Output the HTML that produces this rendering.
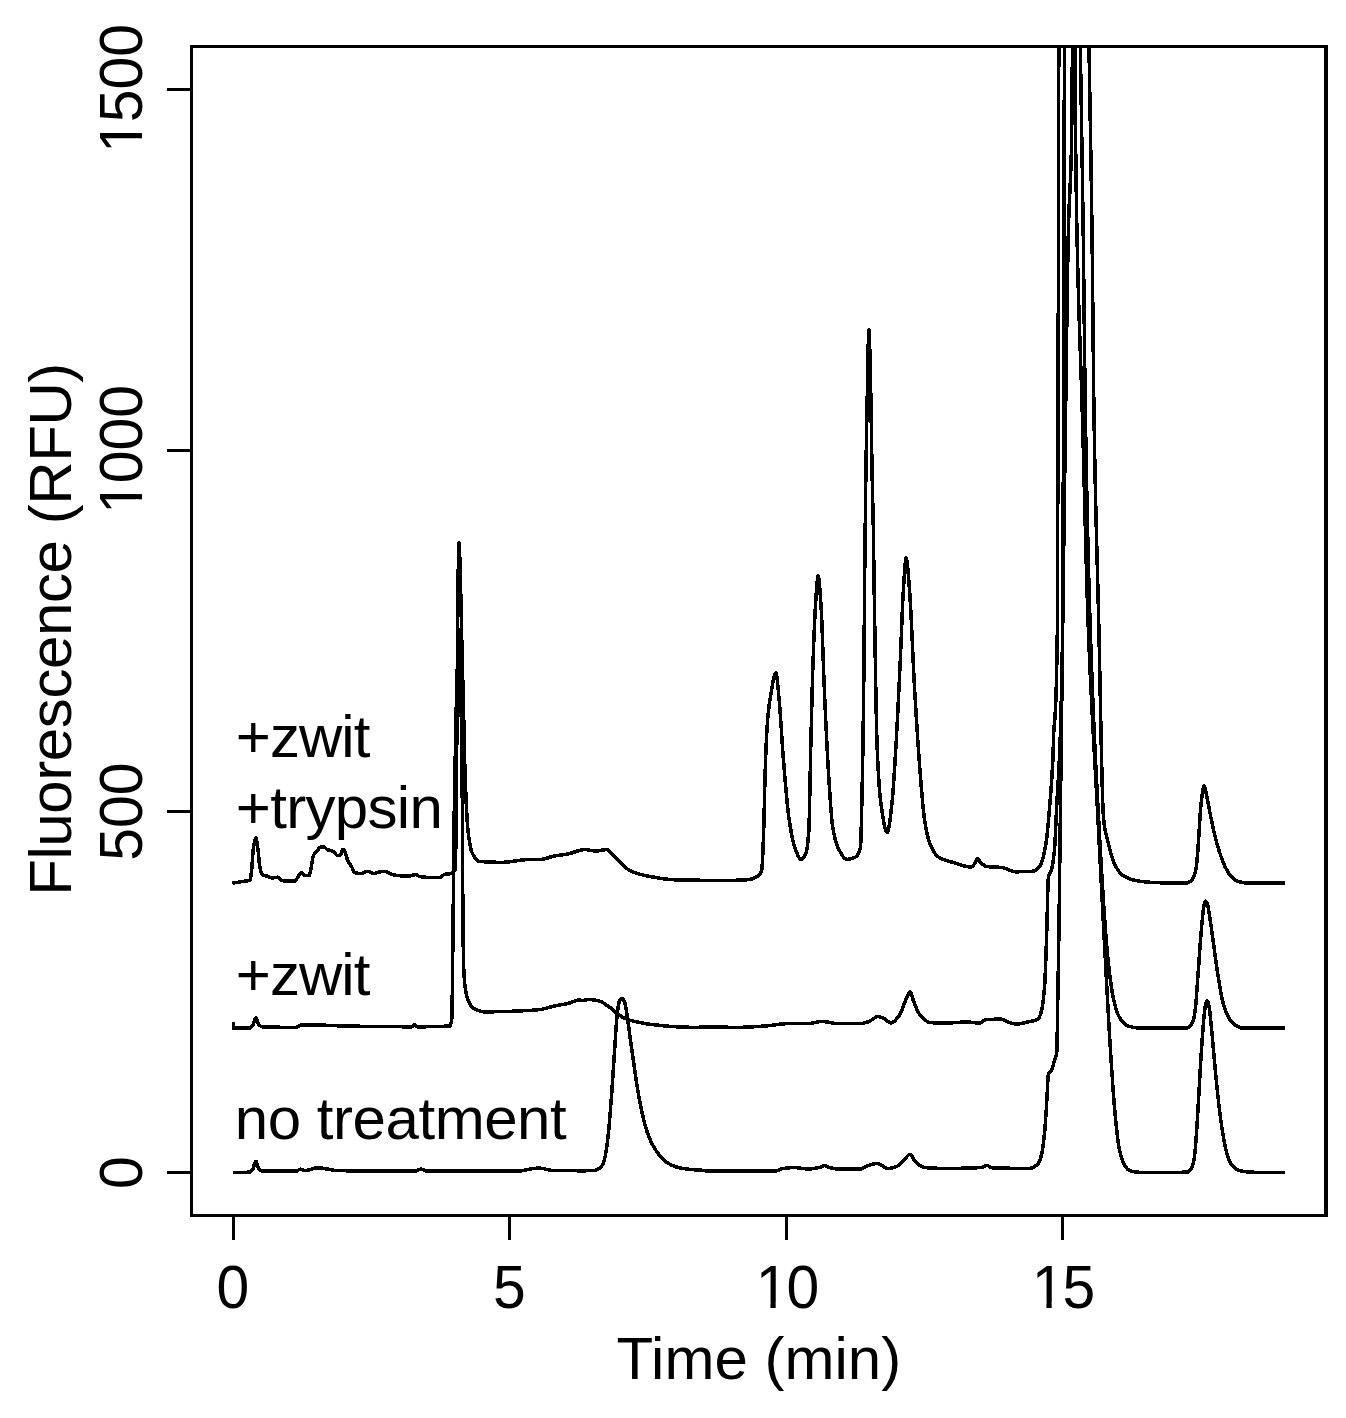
<!DOCTYPE html>
<html><head><meta charset="utf-8"><title>Chromatogram</title>
<style>
html,body{margin:0;padding:0;background:#fff;}
svg{display:block;}
text{font-family:"Liberation Sans",Arial,Helvetica,sans-serif;fill:#000;}
</style></head><body>
<svg width="1346" height="1418" viewBox="0 0 1346 1418">
<rect x="0" y="0" width="1346" height="1418" fill="#fff"/>
<defs><clipPath id="cp"><rect x="191" y="46" width="1135" height="1170"/></clipPath></defs>
<g clip-path="url(#cp)" fill="none" stroke="#000" stroke-width="3.5" stroke-linejoin="round" stroke-linecap="butt" shape-rendering="crispEdges">
<path d="M232.7 1172.6 233.2 1172.6 233.7 1172.6 234.2 1172.6 234.7 1172.6 235.2 1172.6 235.7 1172.6 236.2 1172.6 236.7 1172.6 237.2 1172.6 237.7 1172.6 238.2 1172.6 238.7 1172.6 239.2 1172.5 239.7 1172.5 240.2 1172.5 240.7 1172.5 241.2 1172.5 241.7 1172.5 242.2 1172.5 242.7 1172.4 243.2 1172.4 243.7 1172.4 244.2 1172.4 244.7 1172.4 245.2 1172.3 245.7 1172.3 246.2 1172.3 246.7 1172.3 247.2 1172.2 247.7 1172.2 248.2 1172.2 248.7 1172.1 249.2 1172.1 249.6 1172.0 249.7 1172.0 250.2 1171.9 250.7 1171.6 251.2 1171.2 251.7 1170.6 252.2 1170.1 252.4 1169.8 252.7 1169.4 253.2 1168.2 253.7 1166.6 254.2 1164.8 254.7 1163.2 255.2 1162.0 255.7 1161.4 255.8 1161.3 256.2 1161.6 256.7 1162.7 257.2 1164.3 257.7 1166.0 258.2 1167.7 258.7 1168.9 258.9 1169.2 259.2 1169.5 259.7 1169.9 260.2 1170.3 260.7 1170.7 261.2 1170.9 261.7 1171.1 262.2 1171.2 262.3 1171.2 262.7 1171.2 263.2 1171.2 263.7 1171.2 264.2 1171.2 264.7 1171.2 265.2 1171.2 265.7 1171.2 266.2 1171.2 266.7 1171.2 267.2 1171.2 267.7 1171.2 268.2 1171.2 268.7 1171.2 269.2 1171.2 269.7 1171.2 270.2 1171.2 270.7 1171.2 271.2 1171.2 271.7 1171.2 272.2 1171.2 272.7 1171.2 273.2 1171.2 273.7 1171.2 274.2 1171.2 274.7 1171.2 275.2 1171.2 275.7 1171.2 276.2 1171.2 276.7 1171.2 277.2 1171.2 277.7 1171.2 278.2 1171.2 278.7 1171.2 279.2 1171.2 279.7 1171.2 280.2 1171.2 280.7 1171.2 281.2 1171.2 281.7 1171.2 282.2 1171.2 282.7 1171.2 283.2 1171.2 283.7 1171.2 284.2 1171.2 284.7 1171.2 285.2 1171.2 285.7 1171.2 286.2 1171.2 286.7 1171.2 287.2 1171.2 287.7 1171.2 288.2 1171.2 288.7 1171.2 289.2 1171.2 289.7 1171.2 290.2 1171.2 290.7 1171.2 291.2 1171.2 291.7 1171.2 292.2 1171.2 292.7 1171.2 293.2 1171.2 293.7 1171.2 294.2 1171.2 294.7 1171.2 295.2 1171.2 295.7 1171.2 296.2 1171.2 296.2 1171.2 296.7 1171.1 297.2 1170.9 297.7 1170.6 298.2 1170.3 298.7 1169.9 299.2 1169.6 299.7 1169.4 300.2 1169.2 300.4 1169.2 300.7 1169.2 301.2 1169.4 301.7 1169.5 302.2 1169.8 302.7 1170.0 303.2 1170.3 303.7 1170.5 304.2 1170.6 304.6 1170.6 304.7 1170.6 305.2 1170.6 305.7 1170.6 306.2 1170.5 306.7 1170.4 307.2 1170.3 307.7 1170.2 308.2 1170.1 308.7 1170.0 309.2 1169.8 309.7 1169.6 310.2 1169.5 310.7 1169.3 311.2 1169.2 311.7 1169.0 312.2 1168.8 312.7 1168.7 313.2 1168.5 313.7 1168.4 314.2 1168.2 314.7 1168.1 315.2 1168.0 315.7 1167.9 316.2 1167.9 316.7 1167.8 317.2 1167.8 317.3 1167.8 317.7 1167.8 318.2 1167.8 318.7 1167.8 319.2 1167.9 319.7 1167.9 320.2 1168.0 320.7 1168.0 321.2 1168.1 321.7 1168.1 322.2 1168.2 322.7 1168.3 323.2 1168.3 323.7 1168.4 324.2 1168.5 324.7 1168.6 325.2 1168.7 325.7 1168.8 326.2 1168.8 326.7 1168.9 327.2 1169.0 327.7 1169.1 328.2 1169.2 328.7 1169.3 329.2 1169.4 329.7 1169.5 330.2 1169.6 330.7 1169.7 331.2 1169.8 331.7 1169.9 332.2 1170.0 332.7 1170.1 333.2 1170.1 333.7 1170.2 334.2 1170.3 334.7 1170.4 335.2 1170.4 335.7 1170.5 336.2 1170.5 336.7 1170.6 337.2 1170.6 337.7 1170.6 338.2 1170.6 338.5 1170.6 338.7 1170.6 339.2 1170.6 339.7 1170.7 340.2 1170.7 340.7 1170.7 341.2 1170.7 341.7 1170.7 342.2 1170.7 342.7 1170.7 343.2 1170.7 343.7 1170.7 344.2 1170.7 344.7 1170.7 345.2 1170.7 345.7 1170.7 346.2 1170.8 346.7 1170.8 347.2 1170.8 347.7 1170.8 348.2 1170.8 348.7 1170.8 349.2 1170.8 349.7 1170.8 350.2 1170.8 350.7 1170.8 351.2 1170.8 351.7 1170.8 352.2 1170.8 352.7 1170.8 353.2 1170.9 353.7 1170.9 354.2 1170.9 354.7 1170.9 355.2 1170.9 355.7 1170.9 356.2 1170.9 356.7 1170.9 357.2 1170.9 357.7 1170.9 358.2 1170.9 358.7 1170.9 359.2 1170.9 359.7 1170.9 360.2 1170.9 360.7 1170.9 361.2 1170.9 361.7 1170.9 362.2 1171.0 362.7 1171.0 363.2 1171.0 363.7 1171.0 364.2 1171.0 364.7 1171.0 365.2 1171.0 365.7 1171.0 366.2 1171.0 366.7 1171.0 367.2 1171.0 367.7 1171.0 368.2 1171.0 368.7 1171.0 369.2 1171.0 369.7 1171.0 370.2 1171.0 370.7 1171.0 371.2 1171.0 371.7 1171.0 372.2 1171.0 372.7 1171.0 373.2 1171.1 373.7 1171.1 374.2 1171.1 374.7 1171.1 375.2 1171.1 375.7 1171.1 376.2 1171.1 376.7 1171.1 377.2 1171.1 377.7 1171.1 378.2 1171.1 378.7 1171.1 379.2 1171.1 379.7 1171.1 380.2 1171.1 380.7 1171.1 381.2 1171.1 381.7 1171.1 382.2 1171.1 382.7 1171.1 383.2 1171.1 383.7 1171.1 384.2 1171.1 384.7 1171.1 385.2 1171.1 385.7 1171.1 386.2 1171.1 386.7 1171.1 387.2 1171.1 387.7 1171.1 388.2 1171.1 388.7 1171.1 389.2 1171.1 389.7 1171.1 390.2 1171.2 390.7 1171.2 391.2 1171.2 391.7 1171.2 392.2 1171.2 392.7 1171.2 393.2 1171.2 393.7 1171.2 394.2 1171.2 394.7 1171.2 395.2 1171.2 395.7 1171.2 396.2 1171.2 396.7 1171.2 397.2 1171.2 397.7 1171.2 398.2 1171.2 398.7 1171.2 399.2 1171.2 399.7 1171.2 400.2 1171.2 400.7 1171.2 401.2 1171.2 401.7 1171.2 402.2 1171.2 402.7 1171.2 403.2 1171.2 403.7 1171.2 404.2 1171.2 404.7 1171.2 405.2 1171.2 405.7 1171.2 406.2 1171.2 406.7 1171.2 407.2 1171.2 407.7 1171.2 408.2 1171.2 408.7 1171.2 409.2 1171.2 409.7 1171.2 410.2 1171.2 410.7 1171.2 411.2 1171.2 411.7 1171.2 412.2 1171.2 412.7 1171.2 413.2 1171.2 413.7 1171.2 414.2 1171.2 414.6 1171.2 414.7 1171.2 415.2 1171.2 415.7 1171.0 416.2 1170.9 416.7 1170.7 417.2 1170.5 417.7 1170.2 418.2 1170.0 418.7 1169.8 419.2 1169.6 419.7 1169.4 420.2 1169.3 420.7 1169.2 420.8 1169.2 421.2 1169.2 421.7 1169.3 422.2 1169.4 422.7 1169.6 423.2 1169.8 423.7 1170.0 424.2 1170.3 424.7 1170.5 425.2 1170.7 425.7 1170.9 426.2 1171.0 426.7 1171.1 427.2 1171.2 427.3 1171.2 427.7 1171.2 428.2 1171.2 428.7 1171.2 429.2 1171.2 429.7 1171.2 430.2 1171.2 430.7 1171.2 431.2 1171.2 431.7 1171.2 432.2 1171.2 432.7 1171.2 433.2 1171.2 433.7 1171.2 434.2 1171.2 434.7 1171.2 435.2 1171.2 435.7 1171.2 436.2 1171.2 436.7 1171.2 437.2 1171.2 437.7 1171.2 438.2 1171.2 438.7 1171.2 439.2 1171.2 439.7 1171.2 440.2 1171.2 440.7 1171.2 441.2 1171.2 441.7 1171.2 442.2 1171.2 442.7 1171.2 443.2 1171.2 443.7 1171.2 444.2 1171.2 444.7 1171.2 445.2 1171.2 445.7 1171.2 446.2 1171.2 446.7 1171.2 447.2 1171.2 447.7 1171.2 448.2 1171.2 448.7 1171.2 449.2 1171.2 449.7 1171.2 450.2 1171.2 450.7 1171.2 451.2 1171.2 451.7 1171.2 452.2 1171.2 452.7 1171.2 453.2 1171.2 453.7 1171.2 454.2 1171.2 454.7 1171.2 455.2 1171.2 455.7 1171.2 456.2 1171.2 456.7 1171.2 457.2 1171.2 457.7 1171.2 458.2 1171.2 458.7 1171.2 459.2 1171.2 459.7 1171.2 460.2 1171.2 460.7 1171.2 461.2 1171.2 461.7 1171.2 462.2 1171.2 462.7 1171.2 463.2 1171.2 463.7 1171.2 464.2 1171.2 464.7 1171.2 465.2 1171.2 465.7 1171.2 466.2 1171.2 466.7 1171.2 467.2 1171.2 467.7 1171.2 468.2 1171.2 468.7 1171.2 469.2 1171.2 469.7 1171.2 470.2 1171.2 470.7 1171.2 471.2 1171.2 471.7 1171.2 472.2 1171.2 472.7 1171.2 473.2 1171.2 473.7 1171.2 474.2 1171.2 474.7 1171.2 475.2 1171.2 475.7 1171.2 476.2 1171.2 476.7 1171.2 477.2 1171.2 477.7 1171.2 478.2 1171.2 478.7 1171.2 479.2 1171.2 479.7 1171.2 480.2 1171.2 480.7 1171.2 481.2 1171.2 481.7 1171.2 482.2 1171.2 482.7 1171.2 483.2 1171.2 483.7 1171.2 484.2 1171.2 484.7 1171.2 485.2 1171.2 485.7 1171.2 486.2 1171.2 486.7 1171.2 487.2 1171.2 487.7 1171.2 488.2 1171.2 488.7 1171.2 489.2 1171.2 489.7 1171.2 490.2 1171.2 490.7 1171.2 491.2 1171.2 491.7 1171.2 492.2 1171.2 492.7 1171.2 493.2 1171.2 493.7 1171.2 494.2 1171.2 494.7 1171.2 495.2 1171.2 495.7 1171.2 496.2 1171.2 496.7 1171.2 497.2 1171.2 497.7 1171.2 498.2 1171.2 498.7 1171.2 499.2 1171.2 499.7 1171.2 500.2 1171.2 500.7 1171.2 501.2 1171.2 501.7 1171.2 502.2 1171.2 502.7 1171.2 503.2 1171.2 503.7 1171.2 504.2 1171.2 504.7 1171.2 505.2 1171.2 505.7 1171.2 506.2 1171.2 506.7 1171.2 507.2 1171.2 507.7 1171.2 508.2 1171.2 508.7 1171.2 509.2 1171.2 509.7 1171.2 510.2 1171.2 510.7 1171.2 511.2 1171.2 511.7 1171.2 512.2 1171.2 512.7 1171.2 513.2 1171.2 513.7 1171.2 514.2 1171.2 514.7 1171.2 515.2 1171.2 515.7 1171.2 516.2 1171.2 516.2 1171.2 516.7 1171.2 517.2 1171.2 517.7 1171.2 518.2 1171.1 518.7 1171.1 519.2 1171.0 519.7 1171.0 520.2 1170.9 520.7 1170.9 521.2 1170.8 521.7 1170.7 522.2 1170.7 522.7 1170.6 523.2 1170.5 523.7 1170.4 524.2 1170.3 524.7 1170.2 525.2 1170.1 525.7 1170.0 526.2 1169.9 526.7 1169.8 527.2 1169.7 527.7 1169.6 528.2 1169.5 528.7 1169.4 529.2 1169.3 529.7 1169.2 530.2 1169.1 530.7 1169.0 531.2 1168.9 531.7 1168.8 532.2 1168.7 532.7 1168.6 533.2 1168.6 533.7 1168.5 534.2 1168.4 534.7 1168.4 535.2 1168.3 535.7 1168.3 536.2 1168.2 536.7 1168.2 537.2 1168.1 537.7 1168.1 538.2 1168.1 538.7 1168.1 538.8 1168.1 539.2 1168.1 539.7 1168.1 540.2 1168.2 540.7 1168.2 541.2 1168.3 541.7 1168.3 542.2 1168.4 542.7 1168.5 543.2 1168.6 543.7 1168.7 544.2 1168.8 544.7 1168.9 545.2 1169.1 545.7 1169.2 546.2 1169.3 546.7 1169.4 547.2 1169.6 547.7 1169.7 548.2 1169.8 548.7 1169.9 549.2 1170.0 549.7 1170.1 550.2 1170.2 550.7 1170.3 551.2 1170.4 551.7 1170.5 552.2 1170.5 552.7 1170.6 553.2 1170.6 553.7 1170.6 554.1 1170.6 554.2 1170.6 554.7 1170.6 555.2 1170.6 555.7 1170.6 556.2 1170.6 556.7 1170.6 557.2 1170.6 557.7 1170.6 558.2 1170.6 558.7 1170.6 559.2 1170.6 559.7 1170.6 560.2 1170.6 560.7 1170.6 561.2 1170.6 561.7 1170.6 562.2 1170.6 562.7 1170.6 563.2 1170.6 563.7 1170.6 564.2 1170.6 564.7 1170.6 565.2 1170.6 565.7 1170.6 566.2 1170.6 566.7 1170.6 567.2 1170.6 567.7 1170.6 568.2 1170.6 568.7 1170.6 569.2 1170.6 569.7 1170.6 570.2 1170.6 570.7 1170.6 571.2 1170.6 571.7 1170.6 572.2 1170.6 572.7 1170.6 573.2 1170.6 573.7 1170.6 573.9 1170.6 574.2 1170.6 574.7 1170.6 575.2 1170.7 575.7 1170.7 576.2 1170.7 576.7 1170.7 577.2 1170.7 577.7 1170.8 578.2 1170.8 578.7 1170.8 579.2 1170.8 579.7 1170.8 580.0 1170.8 580.2 1170.8 580.7 1170.8 581.2 1170.8 581.7 1170.8 582.2 1170.8 582.7 1170.8 583.2 1170.8 583.7 1170.8 584.2 1170.8 584.7 1170.8 585.2 1170.8 585.7 1170.8 586.2 1170.7 586.7 1170.7 587.2 1170.7 587.7 1170.7 588.2 1170.7 588.7 1170.7 589.2 1170.7 589.7 1170.6 590.2 1170.6 590.7 1170.6 591.2 1170.6 591.7 1170.6 592.2 1170.5 592.7 1170.5 593.2 1170.5 593.7 1170.4 594.2 1170.4 594.7 1170.4 594.8 1170.4 595.2 1170.3 595.7 1170.2 596.2 1170.1 596.7 1169.9 597.2 1169.7 597.7 1169.4 598.2 1169.1 598.7 1168.8 599.2 1168.5 599.3 1168.4 599.7 1168.1 600.2 1167.7 600.7 1167.2 601.2 1166.6 601.7 1166.0 602.2 1165.2 602.2 1165.2 602.7 1164.3 603.2 1163.1 603.7 1161.7 604.2 1160.1 604.4 1159.3 604.7 1158.3 605.2 1156.1 605.7 1153.4 606.2 1150.4 606.7 1147.4 606.7 1147.2 607.2 1143.6 607.7 1139.5 608.2 1135.0 608.7 1130.1 608.9 1128.1 609.2 1124.9 609.7 1118.9 610.2 1112.6 610.4 1110.4 610.7 1106.3 611.2 1099.9 611.7 1093.3 611.9 1091.1 612.2 1086.2 612.7 1078.6 613.2 1071.0 613.3 1068.9 613.7 1063.5 614.2 1056.0 614.7 1048.5 614.8 1046.7 615.2 1040.8 615.7 1032.8 616.2 1025.7 616.3 1024.4 616.7 1019.8 617.2 1014.6 617.7 1010.2 617.8 1009.6 618.2 1006.7 618.7 1003.6 619.2 1001.6 619.3 1001.5 619.7 1000.7 620.2 1000.0 620.7 999.4 621.2 998.9 621.7 998.6 622.2 998.5 622.2 998.5 622.7 998.7 623.2 999.2 623.7 1000.0 624.2 1001.0 624.4 1001.5 624.7 1002.1 625.2 1004.1 625.7 1006.7 626.2 1009.5 626.2 1009.6 626.7 1012.5 627.2 1016.0 627.7 1019.7 628.1 1023.0 628.2 1023.3 628.7 1026.9 629.2 1030.6 629.7 1034.3 630.2 1038.0 630.4 1039.3 630.7 1041.6 631.2 1045.1 631.7 1048.6 632.2 1052.1 632.7 1055.5 633.2 1059.0 633.3 1060.0 633.7 1062.5 634.2 1066.1 634.7 1069.7 635.2 1073.3 635.7 1076.7 636.2 1080.1 636.3 1080.7 636.7 1083.3 637.2 1086.4 637.7 1089.5 638.2 1092.5 638.7 1095.4 639.2 1098.2 639.3 1098.5 639.7 1100.9 640.2 1103.5 640.7 1106.1 641.2 1108.5 641.7 1110.9 642.2 1113.2 642.2 1113.3 642.7 1115.4 643.2 1117.6 643.7 1119.7 644.2 1121.8 644.7 1123.7 645.2 1125.6 645.7 1127.4 645.9 1128.1 646.2 1129.0 646.7 1130.6 647.2 1132.1 647.7 1133.5 648.2 1134.9 648.7 1136.2 649.2 1137.5 649.6 1138.5 649.7 1138.7 650.2 1139.8 650.7 1140.9 651.2 1142.0 651.7 1143.0 652.2 1144.0 652.7 1144.9 653.2 1145.9 653.7 1146.7 654.1 1147.4 654.2 1147.6 654.7 1148.4 655.2 1149.3 655.7 1150.0 656.2 1150.8 656.7 1151.6 657.2 1152.3 657.7 1153.0 658.2 1153.6 658.5 1154.1 658.7 1154.3 659.2 1155.0 659.7 1155.6 660.2 1156.2 660.7 1156.8 661.2 1157.4 661.7 1158.0 662.2 1158.5 662.7 1159.0 663.0 1159.3 663.2 1159.5 663.7 1159.9 664.2 1160.4 664.7 1160.8 665.2 1161.2 665.7 1161.6 666.2 1162.0 666.7 1162.3 667.2 1162.7 667.7 1163.0 668.2 1163.3 668.7 1163.6 668.9 1163.7 669.2 1163.9 669.7 1164.1 670.2 1164.4 670.7 1164.7 671.2 1164.9 671.7 1165.2 672.2 1165.4 672.7 1165.6 673.2 1165.8 673.7 1166.0 674.2 1166.2 674.7 1166.4 675.2 1166.6 675.7 1166.8 676.2 1166.9 676.3 1167.0 676.7 1167.1 677.2 1167.2 677.7 1167.4 678.2 1167.5 678.7 1167.6 679.2 1167.7 679.7 1167.8 680.2 1167.9 680.7 1168.1 681.2 1168.2 681.7 1168.3 682.2 1168.3 682.7 1168.4 683.2 1168.5 683.7 1168.6 683.7 1168.6 684.2 1168.7 684.7 1168.7 685.2 1168.8 685.7 1168.9 686.2 1169.0 686.7 1169.0 687.2 1169.1 687.7 1169.1 688.2 1169.2 688.7 1169.3 689.2 1169.3 689.7 1169.4 690.2 1169.4 690.7 1169.5 691.2 1169.5 691.7 1169.6 692.2 1169.6 692.6 1169.6 692.7 1169.6 693.2 1169.7 693.7 1169.7 694.2 1169.7 694.7 1169.8 695.2 1169.8 695.7 1169.8 696.2 1169.8 696.7 1169.9 697.2 1169.9 697.7 1169.9 698.2 1170.0 698.7 1170.0 699.2 1170.0 699.7 1170.1 700.0 1170.1 700.2 1170.1 700.7 1170.1 701.2 1170.2 701.7 1170.3 702.2 1170.3 702.7 1170.4 703.2 1170.5 703.7 1170.6 704.2 1170.7 704.7 1170.7 705.2 1170.8 705.7 1170.9 706.2 1171.0 706.7 1171.0 707.2 1171.1 707.7 1171.1 708.2 1171.2 708.7 1171.2 709.2 1171.2 709.3 1171.2 709.7 1171.2 710.2 1171.2 710.7 1171.2 711.2 1171.2 711.7 1171.2 712.2 1171.2 712.7 1171.2 713.2 1171.2 713.7 1171.2 714.2 1171.2 714.7 1171.2 715.2 1171.2 715.7 1171.2 716.2 1171.2 716.7 1171.2 717.2 1171.2 717.7 1171.2 718.2 1171.2 718.7 1171.2 719.2 1171.2 719.7 1171.2 720.2 1171.2 720.7 1171.2 721.2 1171.2 721.7 1171.2 722.2 1171.2 722.7 1171.2 723.2 1171.2 723.7 1171.2 724.2 1171.2 724.7 1171.2 725.2 1171.2 725.7 1171.2 726.2 1171.2 726.7 1171.2 727.2 1171.2 727.7 1171.2 728.2 1171.2 728.7 1171.2 729.2 1171.2 729.7 1171.2 730.2 1171.2 730.7 1171.2 731.2 1171.2 731.7 1171.2 732.2 1171.2 732.7 1171.2 733.2 1171.2 733.7 1171.2 734.2 1171.2 734.7 1171.2 735.2 1171.2 735.7 1171.2 736.2 1171.2 736.7 1171.2 737.2 1171.2 737.7 1171.2 738.2 1171.2 738.7 1171.2 739.2 1171.2 739.7 1171.2 740.2 1171.2 740.7 1171.2 741.2 1171.2 741.7 1171.2 742.2 1171.2 742.7 1171.2 743.2 1171.2 743.7 1171.2 744.2 1171.2 744.7 1171.2 745.2 1171.2 745.7 1171.2 746.2 1171.2 746.7 1171.2 747.2 1171.2 747.7 1171.2 748.2 1171.2 748.7 1171.2 749.2 1171.2 749.7 1171.2 750.2 1171.2 750.7 1171.2 751.2 1171.2 751.7 1171.2 752.2 1171.2 752.7 1171.2 753.2 1171.2 753.7 1171.2 754.2 1171.2 754.7 1171.2 755.2 1171.2 755.7 1171.2 756.2 1171.2 756.7 1171.2 757.2 1171.2 757.7 1171.2 758.2 1171.2 758.7 1171.2 759.2 1171.2 759.7 1171.2 760.2 1171.2 760.7 1171.2 761.2 1171.2 761.7 1171.2 762.2 1171.2 762.7 1171.2 763.2 1171.2 763.7 1171.2 764.2 1171.2 764.7 1171.2 765.2 1171.2 765.7 1171.2 766.2 1171.2 766.7 1171.2 767.2 1171.2 767.7 1171.2 768.2 1171.2 768.7 1171.2 769.2 1171.2 769.7 1171.2 770.2 1171.2 770.7 1171.2 771.2 1171.2 771.7 1171.2 772.2 1171.2 772.7 1171.2 773.2 1171.2 773.7 1171.2 774.1 1171.2 774.2 1171.2 774.7 1171.2 775.2 1171.1 775.7 1171.0 776.2 1170.9 776.7 1170.7 777.2 1170.6 777.7 1170.4 778.2 1170.2 778.7 1170.0 779.2 1169.7 779.7 1169.5 780.2 1169.3 780.7 1169.2 781.2 1169.0 781.7 1168.9 782.2 1168.7 782.6 1168.7 782.7 1168.6 783.2 1168.6 783.7 1168.5 784.2 1168.4 784.7 1168.3 785.2 1168.3 785.7 1168.2 786.2 1168.1 786.7 1168.1 787.2 1168.0 787.7 1167.9 788.2 1167.9 788.7 1167.8 789.2 1167.8 789.7 1167.7 790.2 1167.7 790.7 1167.7 791.2 1167.6 791.7 1167.6 792.2 1167.6 792.7 1167.5 793.2 1167.5 793.7 1167.5 793.9 1167.5 794.2 1167.5 794.7 1167.5 795.2 1167.6 795.7 1167.6 796.2 1167.6 796.7 1167.7 797.2 1167.7 797.7 1167.8 798.2 1167.8 798.7 1167.9 799.2 1168.0 799.7 1168.1 800.2 1168.1 800.7 1168.2 801.2 1168.3 801.7 1168.4 802.2 1168.4 802.7 1168.5 803.2 1168.6 803.7 1168.6 804.2 1168.7 804.7 1168.7 805.2 1168.8 805.7 1168.8 806.2 1168.9 806.7 1168.9 807.2 1168.9 807.7 1168.9 808.0 1168.9 808.2 1168.9 808.7 1168.9 809.2 1168.9 809.7 1168.9 810.2 1168.9 810.7 1168.8 811.2 1168.8 811.7 1168.8 812.2 1168.7 812.7 1168.6 813.2 1168.6 813.7 1168.5 814.2 1168.4 814.7 1168.4 815.2 1168.3 815.7 1168.2 816.2 1168.1 816.7 1168.0 817.2 1167.9 817.7 1167.8 818.2 1167.7 818.7 1167.6 819.2 1167.5 819.3 1167.5 819.7 1167.4 820.2 1167.2 820.7 1167.0 821.2 1166.7 821.7 1166.5 822.2 1166.2 822.7 1166.0 823.2 1165.8 823.7 1165.6 824.2 1165.6 824.3 1165.6 824.7 1165.6 825.2 1165.7 825.7 1165.9 826.2 1166.1 826.7 1166.4 827.2 1166.7 827.7 1166.9 828.2 1167.2 828.7 1167.4 829.1 1167.5 829.2 1167.5 829.7 1167.7 830.2 1167.8 830.7 1167.9 831.2 1168.0 831.7 1168.1 832.2 1168.2 832.7 1168.3 833.2 1168.3 833.7 1168.4 834.2 1168.5 834.7 1168.6 835.2 1168.7 835.7 1168.8 836.2 1168.8 836.7 1168.9 837.2 1168.9 837.7 1169.0 838.2 1169.0 838.7 1169.1 839.2 1169.1 839.7 1169.2 840.2 1169.2 840.7 1169.2 841.2 1169.2 841.7 1169.2 841.8 1169.2 842.2 1169.2 842.7 1169.2 843.2 1169.2 843.7 1169.2 844.2 1169.2 844.7 1169.2 845.2 1169.2 845.7 1169.2 846.2 1169.2 846.7 1169.2 847.2 1169.2 847.7 1169.2 848.2 1169.2 848.7 1169.2 849.2 1169.2 849.7 1169.2 850.2 1169.2 850.7 1169.2 851.2 1169.2 851.7 1169.2 852.2 1169.2 852.7 1169.2 853.2 1169.2 853.7 1169.2 854.2 1169.2 854.7 1169.2 855.2 1169.2 855.7 1169.2 856.2 1169.2 856.7 1169.2 857.2 1169.2 857.7 1169.2 858.2 1169.2 858.7 1169.2 858.8 1169.2 859.2 1169.2 859.7 1169.2 860.2 1169.1 860.7 1168.9 861.2 1168.8 861.7 1168.6 862.2 1168.4 862.7 1168.2 863.2 1167.9 863.7 1167.7 864.2 1167.4 864.7 1167.2 865.2 1166.9 865.7 1166.7 866.2 1166.4 866.7 1166.2 867.2 1166.0 867.7 1165.8 868.2 1165.6 868.5 1165.6 868.7 1165.5 869.2 1165.3 869.7 1165.2 870.2 1165.0 870.7 1164.9 871.2 1164.7 871.7 1164.6 872.2 1164.4 872.7 1164.3 873.2 1164.1 873.7 1164.0 874.2 1163.9 874.7 1163.8 875.2 1163.7 875.7 1163.7 876.2 1163.6 876.7 1163.6 876.9 1163.6 877.2 1163.6 877.7 1163.6 878.2 1163.8 878.7 1163.9 879.2 1164.1 879.7 1164.3 880.2 1164.6 880.7 1164.8 881.2 1165.1 881.7 1165.4 882.2 1165.7 882.7 1166.1 883.2 1166.4 883.7 1166.7 884.2 1167.0 884.7 1167.3 885.2 1167.5 885.7 1167.8 886.2 1168.0 886.7 1168.1 887.2 1168.3 887.7 1168.3 888.2 1168.4 888.2 1168.4 888.7 1168.4 889.2 1168.3 889.7 1168.3 890.2 1168.2 890.7 1168.2 891.2 1168.1 891.7 1168.0 892.2 1167.8 892.7 1167.7 893.2 1167.6 893.7 1167.4 894.2 1167.3 894.7 1167.1 895.2 1166.9 895.7 1166.8 896.2 1166.6 896.7 1166.4 896.7 1166.4 897.2 1166.2 897.7 1165.9 898.2 1165.5 898.7 1165.2 899.2 1164.7 899.7 1164.2 900.2 1163.7 900.7 1163.2 901.2 1162.7 901.7 1162.1 902.2 1161.6 902.7 1161.0 903.2 1160.4 903.7 1159.9 904.2 1159.4 904.7 1158.9 905.1 1158.5 905.2 1158.5 905.7 1158.0 906.2 1157.4 906.7 1156.9 907.2 1156.3 907.7 1155.8 908.2 1155.3 908.7 1154.9 909.2 1154.6 909.7 1154.4 910.2 1154.3 910.2 1154.3 910.7 1154.4 911.2 1154.9 911.7 1155.6 912.2 1156.4 912.7 1157.4 913.2 1158.4 913.7 1159.4 914.2 1160.3 914.7 1161.0 915.0 1161.3 915.2 1161.5 915.7 1162.0 916.2 1162.4 916.7 1162.9 917.2 1163.3 917.7 1163.7 918.2 1164.1 918.7 1164.5 919.2 1164.9 919.7 1165.3 920.2 1165.6 920.7 1166.0 921.2 1166.3 921.7 1166.5 922.2 1166.8 922.7 1167.0 923.2 1167.2 923.7 1167.3 924.2 1167.4 924.7 1167.5 924.9 1167.5 925.2 1167.6 925.7 1167.6 926.2 1167.6 926.7 1167.7 927.2 1167.7 927.7 1167.8 928.2 1167.8 928.7 1167.8 929.2 1167.9 929.7 1167.9 930.2 1167.9 930.7 1168.0 931.2 1168.0 931.7 1168.0 932.2 1168.1 932.7 1168.1 933.2 1168.1 933.7 1168.1 934.2 1168.1 934.7 1168.2 935.2 1168.2 935.7 1168.2 936.2 1168.2 936.7 1168.2 937.2 1168.3 937.7 1168.3 938.2 1168.3 938.7 1168.3 939.2 1168.3 939.7 1168.3 940.2 1168.3 940.7 1168.3 941.2 1168.4 941.7 1168.4 942.2 1168.4 942.7 1168.4 943.2 1168.4 943.7 1168.4 944.2 1168.4 944.6 1168.4 944.7 1168.4 945.2 1168.4 945.7 1168.4 946.2 1168.4 946.7 1168.4 947.2 1168.4 947.7 1168.4 948.2 1168.4 948.7 1168.4 949.2 1168.4 949.7 1168.4 950.2 1168.4 950.7 1168.4 951.2 1168.4 951.7 1168.4 952.2 1168.4 952.7 1168.3 953.2 1168.3 953.7 1168.3 954.2 1168.3 954.7 1168.3 955.2 1168.3 955.7 1168.3 956.2 1168.3 956.7 1168.3 957.2 1168.3 957.7 1168.3 958.2 1168.3 958.7 1168.3 959.2 1168.3 959.7 1168.3 960.2 1168.3 960.7 1168.3 961.2 1168.2 961.7 1168.2 962.2 1168.2 962.7 1168.2 963.2 1168.2 963.7 1168.2 964.2 1168.2 964.7 1168.2 965.2 1168.2 965.7 1168.1 966.2 1168.1 966.7 1168.1 967.2 1168.1 967.7 1168.1 968.2 1168.1 968.7 1168.1 969.2 1168.0 969.7 1168.0 970.2 1168.0 970.7 1168.0 971.2 1168.0 971.7 1168.0 972.2 1167.9 972.7 1167.9 973.2 1167.9 973.7 1167.9 974.2 1167.9 974.7 1167.8 975.2 1167.8 975.7 1167.8 976.2 1167.8 976.7 1167.8 977.2 1167.7 977.7 1167.7 978.2 1167.7 978.7 1167.7 979.2 1167.6 979.7 1167.6 980.2 1167.6 980.7 1167.6 981.2 1167.5 981.3 1167.5 981.7 1167.5 982.2 1167.4 982.7 1167.2 983.2 1167.0 983.7 1166.7 984.2 1166.5 984.7 1166.2 985.2 1166.0 985.7 1165.8 986.2 1165.6 986.7 1165.6 986.9 1165.6 987.2 1165.6 987.7 1165.7 988.2 1165.8 988.7 1166.1 989.2 1166.3 989.7 1166.6 990.2 1166.9 990.7 1167.2 991.2 1167.4 991.7 1167.6 992.2 1167.8 992.6 1167.8 992.7 1167.8 993.2 1167.8 993.7 1167.9 994.2 1167.9 994.7 1167.9 995.2 1167.9 995.7 1167.9 996.2 1167.9 996.7 1168.0 997.2 1168.0 997.7 1168.0 998.2 1168.0 998.7 1168.0 999.2 1168.0 999.7 1168.0 1000.2 1168.1 1000.7 1168.1 1001.2 1168.1 1001.7 1168.1 1002.2 1168.1 1002.7 1168.1 1003.2 1168.1 1003.7 1168.1 1004.2 1168.2 1004.7 1168.2 1005.2 1168.2 1005.7 1168.2 1006.2 1168.2 1006.7 1168.2 1007.2 1168.2 1007.7 1168.2 1008.2 1168.2 1008.7 1168.2 1009.2 1168.2 1009.7 1168.3 1010.2 1168.3 1010.7 1168.3 1011.2 1168.3 1011.7 1168.3 1012.2 1168.3 1012.7 1168.3 1013.2 1168.3 1013.7 1168.3 1014.2 1168.3 1014.7 1168.3 1015.2 1168.3 1015.7 1168.3 1016.2 1168.3 1016.7 1168.3 1017.2 1168.3 1017.7 1168.3 1018.2 1168.3 1018.7 1168.3 1019.2 1168.4 1019.7 1168.4 1020.2 1168.4 1020.7 1168.4 1021.2 1168.4 1021.7 1168.4 1022.2 1168.4 1022.7 1168.4 1023.2 1168.4 1023.7 1168.4 1024.2 1168.4 1024.7 1168.4 1025.2 1168.4 1025.7 1168.4 1026.2 1168.4 1026.7 1168.4 1027.2 1168.4 1027.7 1168.4 1028.2 1168.4 1028.7 1168.4 1029.2 1168.4 1029.3 1168.4 1029.7 1168.4 1030.2 1168.3 1030.7 1168.2 1031.2 1168.1 1031.7 1168.0 1032.2 1167.8 1032.7 1167.6 1033.2 1167.4 1033.7 1167.1 1034.2 1166.8 1034.7 1166.5 1035.2 1166.2 1035.7 1165.8 1036.2 1165.4 1036.7 1165.0 1037.2 1164.6 1037.7 1164.2 1037.7 1164.1 1038.2 1163.6 1038.7 1162.8 1039.2 1161.8 1039.7 1160.6 1040.2 1159.2 1040.7 1157.6 1041.2 1155.8 1041.7 1153.9 1041.9 1152.9 1042.2 1151.7 1042.7 1148.8 1043.2 1145.1 1043.7 1140.9 1044.2 1136.1 1044.7 1131.1 1044.8 1130.3 1045.2 1125.3 1045.7 1118.3 1046.2 1110.7 1046.7 1102.8 1046.7 1102.1 1047.2 1093.6 1047.7 1083.0 1048.2 1075.3 1048.4 1073.9 1048.7 1073.4 1049.2 1072.8 1049.7 1072.4 1050.2 1072.1 1050.7 1071.7 1051.2 1071.1 1051.3 1071.1 1051.7 1070.2 1052.2 1068.9 1052.7 1067.2 1053.2 1065.3 1053.7 1063.4 1054.2 1061.4 1054.6 1059.8 1054.7 1059.6 1055.2 1058.3 1055.7 1057.1 1056.2 1055.6 1056.7 1052.9 1056.9 1051.3 1057.2 1036.9 1057.5 1017.5 1057.7 1003.8 1058.2 975.1 1058.7 944.7 1058.9 932.8 1059.2 909.2 1059.7 868.6 1060.2 827.1 1060.3 820.0 1060.7 787.0 1061.2 746.9 1061.7 706.8 1062.2 667.1 1062.7 628.2 1062.8 620.0 1063.2 589.8 1063.7 551.8 1064.2 514.3 1064.7 477.5 1065.2 441.5 1065.5 420.0 1065.7 406.3 1066.2 369.6 1066.7 332.6 1067.2 297.2 1067.7 265.3 1068.2 238.8 1068.4 230.0 1068.7 219.5 1069.2 205.7 1069.7 195.0 1070.2 185.0 1070.7 173.3 1071.2 157.5 1071.6 140.0 1071.7 133.7 1072.2 72.8 1072.5 47.0 1072.7 41.1 1073.2 29.5 1073.7 25.0 1073.7 25.0 1074.2 29.0 1074.7 40.4 1074.9 47.0 1075.2 79.1 1075.6 140.0 1075.7 148.6 1076.2 188.4 1076.7 219.4 1076.9 230.0 1077.2 243.9 1077.7 265.7 1078.2 285.2 1078.7 302.9 1079.2 319.2 1079.7 334.6 1080.2 349.2 1080.7 363.7 1081.2 378.3 1081.7 393.5 1082.2 409.5 1082.5 420.0 1082.7 426.9 1083.2 445.3 1083.7 464.5 1084.2 484.1 1084.7 503.9 1085.2 523.7 1085.7 543.1 1086.2 561.8 1086.7 579.7 1087.2 596.3 1087.7 611.5 1088.0 620.0 1088.2 625.1 1088.7 637.8 1089.2 650.0 1089.7 661.7 1090.2 672.8 1090.7 683.6 1091.2 693.9 1091.7 704.0 1092.2 713.7 1092.7 723.2 1093.2 732.4 1093.7 741.5 1094.2 750.5 1094.7 759.5 1095.2 768.4 1095.7 777.3 1096.2 786.3 1096.7 795.4 1097.2 804.6 1097.7 814.1 1098.0 820.0 1098.2 823.8 1098.7 833.5 1099.2 843.2 1099.7 852.9 1100.2 862.6 1100.7 872.2 1101.2 881.9 1101.7 891.4 1102.2 901.0 1102.7 910.5 1103.2 919.9 1103.7 929.3 1104.2 938.6 1104.7 947.8 1105.2 957.0 1105.4 961.0 1105.7 966.1 1106.2 975.3 1106.7 984.5 1107.2 993.7 1107.7 1002.8 1108.2 1011.9 1108.7 1020.8 1109.2 1029.5 1109.7 1038.0 1110.2 1046.3 1110.7 1054.2 1111.1 1059.8 1111.2 1061.8 1111.7 1069.3 1112.2 1076.7 1112.7 1083.9 1113.2 1090.9 1113.7 1097.6 1114.2 1104.0 1114.7 1109.8 1115.2 1115.2 1115.3 1116.2 1115.7 1120.2 1116.2 1125.1 1116.7 1129.7 1117.2 1134.2 1117.7 1138.3 1118.2 1142.1 1118.7 1145.5 1119.2 1148.4 1119.5 1150.0 1119.7 1150.8 1120.2 1153.0 1120.7 1155.0 1121.2 1156.8 1121.7 1158.4 1122.2 1159.9 1122.7 1161.2 1123.2 1162.4 1123.5 1163.0 1123.7 1163.4 1124.2 1164.3 1124.7 1165.2 1125.2 1166.1 1125.7 1166.9 1126.2 1167.6 1126.7 1168.2 1127.2 1168.8 1127.7 1169.3 1128.2 1169.6 1128.5 1169.8 1128.7 1169.9 1129.2 1170.1 1129.7 1170.4 1130.2 1170.6 1130.7 1170.8 1131.2 1170.9 1131.7 1171.1 1132.2 1171.3 1132.7 1171.4 1133.2 1171.5 1133.7 1171.6 1134.2 1171.7 1134.7 1171.8 1135.2 1171.9 1135.7 1172.0 1136.0 1172.0 1136.2 1172.0 1136.7 1172.1 1137.2 1172.1 1137.7 1172.2 1138.2 1172.2 1138.7 1172.3 1139.2 1172.3 1139.7 1172.4 1140.2 1172.4 1140.7 1172.4 1141.2 1172.5 1141.7 1172.5 1142.2 1172.5 1142.7 1172.5 1143.2 1172.6 1143.7 1172.6 1144.2 1172.6 1144.7 1172.6 1145.2 1172.6 1145.4 1172.6 1145.7 1172.6 1146.2 1172.6 1146.7 1172.6 1147.2 1172.6 1147.7 1172.6 1148.2 1172.6 1148.7 1172.6 1149.2 1172.6 1149.7 1172.6 1150.2 1172.6 1150.7 1172.6 1151.2 1172.6 1151.7 1172.6 1152.2 1172.6 1152.7 1172.6 1153.2 1172.6 1153.7 1172.6 1154.2 1172.6 1154.7 1172.6 1155.2 1172.6 1155.7 1172.6 1156.2 1172.6 1156.7 1172.6 1157.2 1172.6 1157.7 1172.6 1158.2 1172.6 1158.7 1172.6 1159.2 1172.6 1159.7 1172.6 1160.2 1172.5 1160.7 1172.5 1161.2 1172.5 1161.7 1172.5 1162.2 1172.5 1162.7 1172.5 1163.2 1172.5 1163.7 1172.5 1164.2 1172.5 1164.7 1172.5 1165.2 1172.5 1165.7 1172.5 1166.2 1172.5 1166.7 1172.5 1167.2 1172.5 1167.7 1172.5 1168.2 1172.5 1168.7 1172.5 1169.2 1172.5 1169.7 1172.5 1170.0 1172.5 1170.2 1172.5 1170.7 1172.5 1171.2 1172.4 1171.7 1172.4 1172.2 1172.4 1172.7 1172.4 1173.2 1172.4 1173.7 1172.4 1174.2 1172.4 1174.7 1172.4 1175.2 1172.4 1175.7 1172.4 1176.2 1172.4 1176.7 1172.4 1177.2 1172.4 1177.7 1172.4 1178.2 1172.4 1178.7 1172.4 1179.2 1172.3 1179.7 1172.3 1180.2 1172.3 1180.7 1172.3 1181.2 1172.3 1181.7 1172.3 1182.2 1172.3 1182.7 1172.2 1183.2 1172.2 1183.7 1172.2 1184.2 1172.2 1184.7 1172.2 1185.2 1172.1 1185.7 1172.1 1186.2 1172.1 1186.7 1172.1 1187.2 1172.0 1187.5 1172.0 1187.7 1172.0 1188.2 1171.8 1188.7 1171.6 1189.2 1171.2 1189.7 1170.7 1190.2 1170.2 1190.7 1169.5 1191.2 1168.9 1191.4 1168.5 1191.7 1168.1 1192.2 1167.0 1192.7 1165.5 1193.2 1163.7 1193.7 1161.5 1194.0 1159.8 1194.2 1158.9 1194.7 1154.8 1195.2 1149.4 1195.7 1143.5 1195.8 1142.3 1196.2 1137.2 1196.7 1130.1 1197.2 1122.4 1197.3 1120.4 1197.7 1114.4 1198.2 1105.8 1198.7 1097.0 1198.9 1094.2 1199.2 1088.2 1199.7 1079.2 1200.2 1070.4 1200.6 1063.6 1200.7 1062.1 1201.2 1054.3 1201.7 1046.7 1202.2 1039.5 1202.3 1037.4 1202.7 1032.6 1203.2 1025.7 1203.7 1019.6 1203.9 1017.7 1204.2 1014.7 1204.7 1010.4 1205.2 1006.8 1205.6 1004.6 1205.7 1004.3 1206.2 1002.5 1206.7 1001.2 1207.2 1000.7 1207.2 1000.7 1207.7 1001.3 1208.2 1002.8 1208.7 1004.8 1208.9 1005.7 1209.2 1007.2 1209.7 1010.8 1210.2 1015.4 1210.7 1020.4 1211.1 1024.3 1211.2 1025.2 1211.7 1030.3 1212.2 1035.7 1212.7 1041.3 1213.2 1046.9 1213.7 1052.4 1213.7 1052.7 1214.2 1057.9 1214.7 1063.5 1215.2 1069.0 1215.7 1074.4 1216.2 1079.6 1216.3 1081.1 1216.7 1084.6 1217.2 1089.5 1217.7 1094.2 1218.2 1098.8 1218.7 1103.2 1219.2 1107.3 1219.2 1107.4 1219.7 1111.5 1220.2 1115.4 1220.7 1119.2 1221.2 1122.9 1221.7 1126.4 1222.2 1129.7 1222.5 1131.4 1222.7 1132.8 1223.2 1135.8 1223.7 1138.7 1224.2 1141.5 1224.7 1144.1 1225.2 1146.5 1225.7 1148.7 1225.7 1148.9 1226.2 1150.7 1226.7 1152.6 1227.2 1154.5 1227.7 1156.2 1228.2 1157.7 1228.7 1159.0 1229.0 1159.8 1229.2 1160.2 1229.7 1161.2 1230.2 1162.2 1230.7 1163.1 1231.2 1164.0 1231.7 1164.8 1232.2 1165.4 1232.7 1166.1 1233.2 1166.6 1233.4 1166.8 1233.7 1167.0 1234.2 1167.5 1234.7 1167.9 1235.2 1168.3 1235.7 1168.7 1236.2 1169.0 1236.7 1169.3 1237.2 1169.6 1237.7 1169.9 1238.2 1170.1 1238.7 1170.3 1239.2 1170.5 1239.7 1170.7 1239.9 1170.7 1240.2 1170.8 1240.7 1170.9 1241.2 1171.0 1241.7 1171.1 1242.2 1171.2 1242.7 1171.2 1243.2 1171.3 1243.7 1171.4 1244.2 1171.5 1244.7 1171.6 1245.2 1171.6 1245.7 1171.7 1246.2 1171.8 1246.7 1171.8 1247.2 1171.9 1247.7 1171.9 1248.2 1172.0 1248.7 1172.0 1249.2 1172.1 1249.7 1172.1 1250.2 1172.1 1250.7 1172.2 1251.2 1172.2 1251.7 1172.2 1252.2 1172.2 1252.7 1172.2 1253.1 1172.2 1253.2 1172.2 1253.7 1172.2 1254.2 1172.3 1254.7 1172.3 1255.2 1172.3 1255.7 1172.3 1256.2 1172.3 1256.7 1172.3 1257.2 1172.3 1257.7 1172.3 1258.2 1172.3 1258.7 1172.3 1259.2 1172.3 1259.7 1172.3 1260.2 1172.3 1260.7 1172.3 1261.2 1172.3 1261.7 1172.3 1262.2 1172.4 1262.7 1172.4 1263.2 1172.4 1263.7 1172.4 1264.2 1172.4 1264.7 1172.4 1265.2 1172.4 1265.7 1172.4 1266.2 1172.4 1266.7 1172.4 1267.2 1172.4 1267.7 1172.4 1268.2 1172.4 1268.7 1172.4 1269.2 1172.4 1269.7 1172.4 1270.2 1172.4 1270.7 1172.4 1271.2 1172.4 1271.7 1172.4 1272.2 1172.4 1272.7 1172.4 1273.2 1172.4 1273.7 1172.4 1274.2 1172.4 1274.7 1172.4 1275.2 1172.4 1275.7 1172.4 1276.2 1172.4 1276.7 1172.4 1277.2 1172.4 1277.7 1172.4 1278.2 1172.4 1278.7 1172.5 1279.2 1172.5 1279.7 1172.5 1280.2 1172.5 1280.7 1172.5 1281.2 1172.5 1281.7 1172.5 1282.2 1172.5 1282.7 1172.5 1283.2 1172.5 1283.7 1172.5 1284.2 1172.5 1284.7 1172.5 1285.2 1172.5"/>
<path d="M233.4 1021.5 L233.4 1028.2 233.9 1028.2 234.4 1028.2 234.9 1028.2 235.4 1028.2 235.9 1028.2 236.4 1028.2 236.9 1028.2 237.4 1028.2 237.9 1028.2 238.4 1028.2 238.9 1028.2 239.4 1028.2 239.9 1028.1 240.4 1028.1 240.9 1028.1 241.4 1028.1 241.9 1028.1 242.4 1028.1 242.9 1028.1 243.4 1028.1 243.9 1028.1 244.4 1028.1 244.9 1028.1 245.4 1028.0 245.9 1028.0 246.4 1028.0 246.9 1028.0 247.4 1028.0 247.9 1028.0 248.4 1027.9 248.9 1027.9 249.4 1027.9 249.6 1027.9 249.9 1027.9 250.4 1027.6 250.9 1027.3 251.4 1026.8 251.9 1026.3 252.4 1025.7 252.7 1025.4 252.9 1025.1 253.4 1023.9 253.9 1022.4 254.4 1020.7 254.9 1019.3 255.4 1018.3 255.8 1018.0 255.9 1018.0 256.4 1018.6 256.9 1019.6 257.4 1021.0 257.9 1022.5 258.4 1023.7 258.9 1024.5 258.9 1024.5 259.4 1025.0 259.9 1025.5 260.4 1025.9 260.9 1026.3 261.4 1026.5 261.9 1026.7 262.3 1026.8 262.4 1026.8 262.9 1026.8 263.4 1026.8 263.9 1026.8 264.4 1026.9 264.9 1026.9 265.4 1026.9 265.9 1026.9 266.4 1026.9 266.9 1026.9 267.4 1027.0 267.9 1027.0 268.4 1027.0 268.9 1027.0 269.4 1027.0 269.9 1027.0 270.4 1027.1 270.9 1027.1 271.4 1027.1 271.9 1027.1 272.4 1027.1 272.9 1027.1 273.4 1027.1 273.9 1027.1 274.4 1027.2 274.9 1027.2 275.4 1027.2 275.9 1027.2 276.4 1027.2 276.9 1027.2 277.4 1027.2 277.9 1027.2 278.4 1027.2 278.9 1027.2 279.4 1027.2 279.9 1027.2 280.4 1027.3 280.9 1027.3 281.4 1027.3 281.9 1027.3 282.4 1027.3 282.9 1027.3 283.4 1027.3 283.9 1027.3 284.4 1027.3 284.9 1027.3 285.4 1027.3 285.9 1027.3 286.4 1027.3 286.9 1027.3 287.4 1027.3 287.9 1027.3 288.4 1027.3 288.9 1027.3 289.4 1027.3 289.9 1027.3 290.4 1027.3 290.9 1027.3 291.4 1027.3 291.9 1027.3 292.4 1027.3 292.9 1027.3 293.4 1027.3 293.9 1027.3 294.4 1027.3 294.9 1027.3 295.4 1027.3 295.9 1027.3 296.2 1027.3 296.4 1027.3 296.9 1027.2 297.4 1027.0 297.9 1026.7 298.4 1026.4 298.9 1026.1 299.4 1025.8 299.9 1025.5 300.4 1025.2 300.9 1025.0 301.4 1024.8 301.8 1024.8 301.9 1024.8 302.4 1024.8 302.9 1024.8 303.4 1024.8 303.9 1024.8 304.4 1024.8 304.9 1024.8 305.4 1024.8 305.9 1024.8 306.4 1024.8 306.9 1024.8 307.4 1024.8 307.9 1024.8 308.4 1024.8 308.9 1024.8 309.4 1024.8 309.9 1024.8 310.4 1024.8 310.9 1024.8 311.4 1024.8 311.9 1024.8 312.4 1024.8 312.9 1024.8 313.4 1024.8 313.9 1024.8 314.4 1024.8 314.9 1024.8 315.4 1024.8 315.9 1024.8 316.4 1024.8 316.9 1024.8 317.3 1024.8 317.4 1024.8 317.9 1024.8 318.4 1024.8 318.9 1024.8 319.4 1024.8 319.9 1024.8 320.4 1024.9 320.9 1024.9 321.4 1024.9 321.9 1024.9 322.4 1025.0 322.9 1025.0 323.4 1025.0 323.9 1025.1 324.4 1025.1 324.9 1025.2 325.4 1025.2 325.9 1025.2 326.4 1025.3 326.9 1025.3 327.4 1025.3 327.9 1025.4 328.4 1025.4 328.9 1025.5 329.4 1025.5 329.9 1025.5 330.4 1025.5 330.9 1025.6 331.4 1025.6 331.9 1025.6 332.4 1025.6 332.8 1025.6 332.9 1025.6 333.4 1025.7 333.9 1025.7 334.4 1025.7 334.9 1025.7 335.4 1025.7 335.9 1025.7 336.4 1025.7 336.9 1025.7 337.4 1025.8 337.9 1025.8 338.4 1025.8 338.9 1025.8 339.4 1025.8 339.9 1025.8 340.4 1025.8 340.9 1025.8 341.4 1025.9 341.9 1025.9 342.4 1025.9 342.9 1025.9 343.4 1025.9 343.9 1025.9 344.4 1025.9 344.9 1025.9 345.4 1026.0 345.9 1026.0 346.4 1026.0 346.9 1026.0 347.4 1026.0 347.9 1026.0 348.4 1026.0 348.9 1026.0 349.4 1026.0 349.9 1026.1 350.4 1026.1 350.9 1026.1 351.4 1026.1 351.9 1026.1 352.4 1026.1 352.9 1026.1 353.4 1026.1 353.9 1026.1 354.4 1026.1 354.9 1026.2 355.4 1026.2 355.9 1026.2 356.4 1026.2 356.9 1026.2 357.4 1026.2 357.9 1026.2 358.4 1026.2 358.9 1026.2 359.4 1026.2 359.9 1026.3 360.4 1026.3 360.9 1026.3 361.4 1026.3 361.9 1026.3 362.4 1026.3 362.9 1026.3 363.4 1026.3 363.9 1026.3 364.4 1026.3 364.9 1026.3 365.4 1026.4 365.9 1026.4 366.4 1026.4 366.9 1026.4 367.4 1026.4 367.9 1026.4 368.4 1026.4 368.9 1026.4 369.4 1026.4 369.9 1026.4 370.4 1026.4 370.9 1026.4 371.4 1026.4 371.9 1026.5 372.4 1026.5 372.9 1026.5 373.4 1026.5 373.9 1026.5 374.4 1026.5 374.9 1026.5 375.4 1026.5 375.9 1026.5 376.4 1026.5 376.9 1026.5 377.4 1026.5 377.9 1026.5 378.4 1026.5 378.9 1026.6 379.4 1026.6 379.9 1026.6 380.4 1026.6 380.9 1026.6 381.4 1026.6 381.9 1026.6 382.4 1026.6 382.9 1026.6 383.4 1026.6 383.9 1026.6 384.4 1026.6 384.9 1026.6 385.4 1026.6 385.9 1026.6 386.4 1026.6 386.9 1026.6 387.4 1026.6 387.9 1026.7 388.4 1026.7 388.9 1026.7 389.4 1026.7 389.9 1026.7 390.4 1026.7 390.9 1026.7 391.4 1026.7 391.9 1026.7 392.4 1026.7 392.9 1026.7 393.4 1026.7 393.9 1026.7 394.4 1026.7 394.9 1026.7 395.4 1026.7 395.9 1026.7 396.4 1026.7 396.9 1026.7 397.4 1026.7 397.9 1026.7 398.4 1026.7 398.9 1026.7 399.4 1026.7 399.9 1026.7 400.4 1026.7 400.9 1026.7 401.4 1026.7 401.9 1026.7 402.4 1026.8 402.9 1026.8 403.4 1026.8 403.9 1026.8 404.4 1026.8 404.9 1026.8 405.4 1026.8 405.9 1026.8 406.4 1026.8 406.9 1026.8 407.4 1026.8 407.9 1026.8 408.4 1026.8 408.9 1026.8 409.4 1026.8 409.9 1026.8 410.4 1026.8 410.9 1026.8 411.4 1026.8 411.8 1026.8 411.9 1026.8 412.4 1026.5 412.9 1026.1 413.4 1025.6 413.9 1025.1 414.4 1024.8 414.6 1024.8 414.9 1024.9 415.4 1025.2 415.9 1025.7 416.4 1026.2 416.9 1026.6 417.4 1026.8 417.5 1026.8 417.9 1026.8 418.4 1026.8 418.9 1026.8 419.4 1026.8 419.9 1026.8 420.4 1026.8 420.9 1026.8 421.4 1026.8 421.9 1026.8 422.4 1026.8 422.9 1026.8 423.4 1026.8 423.9 1026.8 424.4 1026.8 424.9 1026.8 425.4 1026.8 425.9 1026.7 426.4 1026.7 426.9 1026.7 427.4 1026.7 427.9 1026.7 428.4 1026.7 428.9 1026.7 429.4 1026.7 429.9 1026.7 430.4 1026.7 430.9 1026.7 431.4 1026.7 431.9 1026.7 432.4 1026.7 432.9 1026.7 433.4 1026.6 433.9 1026.6 434.4 1026.6 434.9 1026.6 435.4 1026.6 435.9 1026.6 436.4 1026.6 436.9 1026.6 437.4 1026.5 437.9 1026.5 438.4 1026.5 438.9 1026.5 439.4 1026.5 439.9 1026.5 440.4 1026.4 440.9 1026.4 441.4 1026.4 441.9 1026.4 442.4 1026.4 442.9 1026.3 443.4 1026.3 443.9 1026.3 444.4 1026.3 444.9 1026.2 445.4 1026.2 445.9 1026.2 446.4 1026.2 446.9 1026.1 447.4 1026.1 447.9 1026.1 448.4 1026.0 448.9 1026.0 449.4 1026.0 449.9 1025.9 449.9 1025.9 450.4 1025.3 450.9 1023.7 451.4 1020.9 451.9 1017.5 451.9 1016.7 452.4 987.1 452.9 939.6 453.0 932.8 453.4 888.8 453.9 835.2 454.1 820.0 454.4 803.0 454.9 775.1 455.4 748.7 455.9 724.1 456.4 701.6 456.9 681.6 457.4 664.5 457.9 650.4 458.4 639.7 458.9 632.8 459.4 630.0 459.5 630.0 459.9 636.6 460.4 658.2 460.9 689.7 461.4 725.9 461.7 745.7 461.9 763.3 462.3 802.0 462.4 823.9 462.9 920.0 462.9 922.3 463.4 956.2 463.9 973.9 464.0 975.1 464.4 980.1 464.9 985.0 465.4 989.0 465.9 992.2 466.4 994.8 466.9 996.8 467.4 998.4 467.9 999.8 468.2 1000.5 468.4 1001.0 468.9 1002.1 469.4 1003.1 469.9 1004.0 470.4 1004.8 470.9 1005.6 471.4 1006.2 471.9 1006.8 472.4 1007.4 472.9 1007.8 473.4 1008.2 473.9 1008.4 473.9 1008.5 474.4 1008.7 474.9 1009.0 475.4 1009.2 475.9 1009.5 476.4 1009.7 476.9 1009.9 477.4 1010.1 477.9 1010.3 478.4 1010.5 478.9 1010.7 479.4 1010.8 479.9 1011.0 480.4 1011.1 480.9 1011.3 481.4 1011.4 481.9 1011.5 482.4 1011.6 482.9 1011.7 483.4 1011.7 483.9 1011.8 484.4 1011.8 484.9 1011.8 485.2 1011.8 485.4 1011.8 485.9 1011.8 486.4 1011.8 486.9 1011.8 487.4 1011.8 487.9 1011.8 488.4 1011.8 488.9 1011.8 489.4 1011.8 489.9 1011.8 490.4 1011.8 490.9 1011.8 491.4 1011.8 491.9 1011.8 492.4 1011.8 492.9 1011.8 493.4 1011.8 493.9 1011.8 494.4 1011.7 494.9 1011.7 495.4 1011.7 495.9 1011.7 496.4 1011.7 496.9 1011.7 497.4 1011.7 497.9 1011.7 498.4 1011.7 498.9 1011.7 499.4 1011.6 499.9 1011.6 500.4 1011.6 500.9 1011.6 501.4 1011.6 501.9 1011.6 502.4 1011.6 502.9 1011.6 503.4 1011.5 503.9 1011.5 504.4 1011.5 504.9 1011.5 505.4 1011.5 505.9 1011.5 506.4 1011.4 506.9 1011.4 507.4 1011.4 507.9 1011.4 508.4 1011.4 508.9 1011.4 509.4 1011.3 509.9 1011.3 510.4 1011.3 510.9 1011.3 511.4 1011.3 511.9 1011.3 512.4 1011.2 512.9 1011.2 513.4 1011.2 513.9 1011.2 514.4 1011.2 514.9 1011.1 515.4 1011.1 515.9 1011.1 516.4 1011.1 516.9 1011.0 517.4 1011.0 517.9 1011.0 518.4 1011.0 518.9 1011.0 519.4 1010.9 519.9 1010.9 520.4 1010.9 520.9 1010.9 521.4 1010.8 521.9 1010.8 522.4 1010.8 522.9 1010.8 523.4 1010.7 523.9 1010.7 524.4 1010.7 524.9 1010.7 525.4 1010.7 525.9 1010.6 526.4 1010.6 526.9 1010.6 527.4 1010.6 527.9 1010.5 528.4 1010.5 528.9 1010.5 529.4 1010.5 529.9 1010.4 530.3 1010.4 530.4 1010.4 530.9 1010.4 531.4 1010.3 531.9 1010.3 532.4 1010.3 532.9 1010.2 533.4 1010.2 533.9 1010.2 534.4 1010.1 534.9 1010.1 535.4 1010.1 535.9 1010.0 536.4 1010.0 536.9 1009.9 537.4 1009.9 537.9 1009.8 538.4 1009.7 538.9 1009.7 539.4 1009.6 539.9 1009.6 540.0 1009.6 540.4 1009.5 540.9 1009.4 541.4 1009.4 541.9 1009.3 542.4 1009.2 542.9 1009.1 543.4 1009.0 543.9 1008.8 544.4 1008.7 544.9 1008.6 545.4 1008.5 545.9 1008.3 546.4 1008.2 546.9 1008.1 547.4 1007.9 547.9 1007.8 548.4 1007.7 548.9 1007.5 549.4 1007.4 549.9 1007.2 550.4 1007.1 550.9 1007.0 551.4 1006.8 551.9 1006.7 552.4 1006.6 552.9 1006.4 553.4 1006.3 553.9 1006.2 554.1 1006.2 554.4 1006.1 554.9 1006.0 555.4 1005.9 555.9 1005.8 556.4 1005.7 556.9 1005.6 557.4 1005.5 557.9 1005.4 558.4 1005.3 558.9 1005.2 559.4 1005.1 559.9 1005.0 560.4 1004.9 560.9 1004.8 561.4 1004.7 561.9 1004.7 562.4 1004.6 562.9 1004.5 563.4 1004.4 563.9 1004.3 564.4 1004.2 564.9 1004.1 565.4 1004.0 565.9 1003.9 566.4 1003.8 566.9 1003.6 567.4 1003.5 567.9 1003.4 568.2 1003.4 568.4 1003.3 568.9 1003.2 569.4 1003.0 569.9 1002.9 570.4 1002.7 570.9 1002.5 571.4 1002.3 571.9 1002.2 572.4 1002.0 572.9 1001.8 573.4 1001.6 573.9 1001.4 574.4 1001.2 574.9 1001.0 575.4 1000.9 575.9 1000.7 576.4 1000.5 576.9 1000.4 577.4 1000.3 577.9 1000.2 578.4 1000.1 578.9 1000.0 579.4 1000.0 579.9 1000.0 580.1 1000.0 580.1 1000.7 580.4 1000.7 580.9 1000.7 581.4 1000.7 581.9 1000.6 582.4 1000.5 582.9 1000.5 583.4 1000.4 583.9 1000.3 584.4 1000.2 584.9 1000.1 585.4 1000.0 585.9 999.9 586.4 999.8 586.9 999.7 587.4 999.6 587.9 999.6 588.4 999.6 588.9 999.6 588.9 999.6 589.4 999.6 589.9 999.6 590.4 999.6 590.9 999.6 591.4 999.7 591.9 999.7 592.4 999.8 592.9 999.8 593.4 999.9 593.9 999.9 594.4 1000.0 594.9 1000.1 595.4 1000.2 595.9 1000.2 596.3 1000.3 596.4 1000.3 596.9 1000.4 597.4 1000.5 597.9 1000.6 598.4 1000.8 598.9 1000.9 599.4 1001.1 599.9 1001.3 600.4 1001.5 600.9 1001.7 601.4 1001.9 601.9 1002.1 602.2 1002.2 602.4 1002.3 602.9 1002.6 603.4 1002.9 603.9 1003.2 604.4 1003.6 604.9 1003.9 605.4 1004.3 605.9 1004.7 606.4 1005.0 606.7 1005.2 606.9 1005.4 607.4 1005.7 607.9 1006.1 608.4 1006.4 608.9 1006.7 609.4 1007.1 609.9 1007.5 610.4 1007.8 610.9 1008.2 611.4 1008.6 611.9 1008.9 611.9 1008.9 612.4 1009.4 612.9 1009.8 613.4 1010.2 613.9 1010.7 614.4 1011.1 614.9 1011.6 615.4 1012.0 615.9 1012.4 616.4 1012.9 616.9 1013.2 617.0 1013.3 617.4 1013.6 617.9 1014.0 618.4 1014.4 618.9 1014.8 619.4 1015.1 619.9 1015.5 620.4 1015.8 620.9 1016.1 621.4 1016.5 621.9 1016.8 622.4 1017.0 622.9 1017.3 623.0 1017.3 623.4 1017.6 623.9 1017.8 624.4 1018.0 624.9 1018.3 625.4 1018.5 625.9 1018.7 626.4 1018.9 626.9 1019.1 627.4 1019.3 627.9 1019.5 628.4 1019.7 628.9 1019.8 629.4 1020.0 629.9 1020.2 630.4 1020.3 630.4 1020.3 630.9 1020.5 631.4 1020.6 631.9 1020.7 632.4 1020.9 632.9 1021.0 633.4 1021.1 633.9 1021.3 634.4 1021.4 634.9 1021.5 635.4 1021.6 635.9 1021.7 636.4 1021.8 636.9 1021.9 637.4 1022.0 637.9 1022.1 638.4 1022.2 638.9 1022.3 639.4 1022.4 639.9 1022.5 640.4 1022.6 640.9 1022.7 641.4 1022.8 641.9 1022.9 642.2 1023.0 642.4 1023.0 642.9 1023.1 643.4 1023.2 643.9 1023.3 644.4 1023.3 644.9 1023.4 645.4 1023.5 645.9 1023.6 646.4 1023.7 646.9 1023.8 647.4 1023.8 647.9 1023.9 648.4 1024.0 648.9 1024.1 649.4 1024.1 649.9 1024.2 650.4 1024.3 650.9 1024.3 651.4 1024.4 651.9 1024.5 652.4 1024.5 652.9 1024.6 653.4 1024.7 653.9 1024.7 654.1 1024.7 654.4 1024.8 654.9 1024.8 655.4 1024.9 655.9 1025.0 656.4 1025.0 656.9 1025.1 657.4 1025.1 657.9 1025.2 658.4 1025.2 658.9 1025.3 659.4 1025.4 659.9 1025.4 660.4 1025.5 660.9 1025.5 661.4 1025.6 661.9 1025.6 662.4 1025.7 662.9 1025.7 663.4 1025.8 663.9 1025.8 664.4 1025.9 664.9 1025.9 665.4 1025.9 665.9 1026.0 666.4 1026.0 666.9 1026.1 667.4 1026.1 667.9 1026.1 668.4 1026.2 668.9 1026.2 668.9 1026.2 669.4 1026.3 669.9 1026.3 670.4 1026.3 670.9 1026.4 671.4 1026.4 671.9 1026.4 672.4 1026.5 672.9 1026.5 673.4 1026.6 673.9 1026.6 674.4 1026.6 674.9 1026.7 675.4 1026.7 675.9 1026.7 676.4 1026.8 676.9 1026.8 677.4 1026.8 677.9 1026.9 678.4 1026.9 678.9 1026.9 679.4 1026.9 679.9 1027.0 680.4 1027.0 680.9 1027.0 681.4 1027.0 681.9 1027.1 682.4 1027.1 682.9 1027.1 683.4 1027.1 683.7 1027.1 683.9 1027.1 684.4 1027.1 684.9 1027.1 685.4 1027.2 685.9 1027.2 686.4 1027.2 686.9 1027.2 687.4 1027.2 687.9 1027.2 688.4 1027.2 688.9 1027.3 689.4 1027.3 689.9 1027.3 690.4 1027.3 690.9 1027.3 691.4 1027.3 691.9 1027.3 692.4 1027.3 692.9 1027.3 693.4 1027.3 693.9 1027.4 694.4 1027.4 694.9 1027.4 695.4 1027.4 695.9 1027.4 696.4 1027.4 696.9 1027.4 697.4 1027.4 697.9 1027.4 698.4 1027.4 698.9 1027.4 699.4 1027.4 699.9 1027.4 700.0 1027.4 700.0 1026.8 700.4 1026.8 700.9 1026.8 701.4 1026.8 701.9 1026.8 702.4 1026.8 702.9 1026.8 703.4 1026.8 703.9 1026.8 704.4 1026.8 704.9 1026.8 705.4 1026.8 705.9 1026.8 706.4 1026.8 706.9 1026.8 707.4 1026.8 707.9 1026.8 708.4 1026.8 708.9 1026.9 709.4 1026.9 709.9 1026.9 710.4 1026.9 710.9 1026.9 711.4 1026.9 711.9 1026.9 712.4 1026.9 712.9 1026.9 713.4 1026.9 713.9 1026.9 714.4 1027.0 714.9 1027.0 715.4 1027.0 715.9 1027.0 716.4 1027.0 716.9 1027.0 717.4 1027.0 717.9 1027.0 718.4 1027.0 718.9 1027.1 719.4 1027.1 719.9 1027.1 720.4 1027.1 720.9 1027.1 721.4 1027.1 721.9 1027.1 722.4 1027.1 722.9 1027.1 723.4 1027.2 723.9 1027.2 724.4 1027.2 724.9 1027.2 725.4 1027.2 725.9 1027.2 726.4 1027.2 726.9 1027.2 727.4 1027.2 727.9 1027.2 728.4 1027.3 728.9 1027.3 729.4 1027.3 729.9 1027.3 730.4 1027.3 730.9 1027.3 731.4 1027.3 731.9 1027.3 732.4 1027.3 732.9 1027.3 733.4 1027.3 733.9 1027.3 734.4 1027.3 734.9 1027.3 735.4 1027.3 735.9 1027.3 736.4 1027.3 736.9 1027.3 737.4 1027.3 737.5 1027.3 737.9 1027.3 738.4 1027.3 738.9 1027.3 739.4 1027.3 739.9 1027.3 740.4 1027.3 740.9 1027.3 741.4 1027.3 741.9 1027.3 742.4 1027.3 742.9 1027.3 743.4 1027.2 743.9 1027.2 744.4 1027.2 744.9 1027.2 745.4 1027.2 745.9 1027.1 746.4 1027.1 746.9 1027.1 747.4 1027.1 747.9 1027.1 748.4 1027.0 748.9 1027.0 749.4 1027.0 749.9 1027.0 750.4 1026.9 750.9 1026.9 751.4 1026.9 751.9 1026.8 752.4 1026.8 752.9 1026.8 753.4 1026.8 753.9 1026.7 754.4 1026.7 754.9 1026.7 755.4 1026.6 755.9 1026.6 756.4 1026.6 756.9 1026.5 757.4 1026.5 757.9 1026.5 758.4 1026.4 758.9 1026.4 759.4 1026.4 759.9 1026.3 760.4 1026.3 760.9 1026.3 761.4 1026.2 761.9 1026.2 762.4 1026.1 762.9 1026.1 763.4 1026.1 763.9 1026.0 764.4 1026.0 764.9 1026.0 765.4 1025.9 765.7 1025.9 765.9 1025.9 766.4 1025.9 766.9 1025.8 767.4 1025.8 767.9 1025.7 768.4 1025.7 768.9 1025.6 769.4 1025.6 769.9 1025.5 770.4 1025.5 770.9 1025.4 771.4 1025.3 771.9 1025.3 772.4 1025.2 772.9 1025.1 773.4 1025.1 773.9 1025.0 774.4 1024.9 774.9 1024.9 775.4 1024.8 775.9 1024.7 776.4 1024.7 776.9 1024.6 777.4 1024.5 777.9 1024.5 778.4 1024.4 778.9 1024.4 779.4 1024.3 779.9 1024.2 780.4 1024.2 780.9 1024.1 781.4 1024.1 781.9 1024.0 782.4 1024.0 782.9 1023.9 783.4 1023.9 783.9 1023.8 784.4 1023.8 784.9 1023.8 785.4 1023.7 785.9 1023.7 786.4 1023.7 786.9 1023.7 787.4 1023.7 787.9 1023.7 788.2 1023.7 788.4 1023.7 788.9 1023.7 789.4 1023.7 789.9 1023.7 790.4 1023.7 790.9 1023.7 791.4 1023.7 791.9 1023.7 792.4 1023.7 792.9 1023.7 793.4 1023.7 793.9 1023.7 794.4 1023.7 794.9 1023.7 795.4 1023.7 795.9 1023.7 796.4 1023.7 796.9 1023.7 797.4 1023.7 797.9 1023.7 798.4 1023.7 798.9 1023.7 799.4 1023.7 799.9 1023.7 800.4 1023.7 800.9 1023.7 801.4 1023.7 801.9 1023.7 802.4 1023.7 802.9 1023.7 803.4 1023.7 803.9 1023.7 804.4 1023.7 804.9 1023.7 805.4 1023.7 805.9 1023.7 806.4 1023.7 806.9 1023.7 807.4 1023.7 807.9 1023.7 808.0 1023.7 808.4 1023.7 808.9 1023.6 809.4 1023.6 809.9 1023.6 810.4 1023.5 810.9 1023.4 811.4 1023.3 811.9 1023.2 812.4 1023.1 812.9 1023.0 813.4 1022.9 813.9 1022.8 814.4 1022.7 814.9 1022.6 815.4 1022.4 815.9 1022.3 816.4 1022.2 816.9 1022.1 817.4 1022.0 817.9 1021.9 818.4 1021.8 818.9 1021.7 819.4 1021.6 819.9 1021.6 820.4 1021.5 820.9 1021.5 821.4 1021.4 821.9 1021.4 822.1 1021.4 822.4 1021.4 822.9 1021.4 823.4 1021.5 823.9 1021.5 824.4 1021.5 824.9 1021.6 825.4 1021.7 825.9 1021.8 826.4 1021.8 826.9 1021.9 827.4 1022.0 827.9 1022.1 828.4 1022.2 828.9 1022.3 829.4 1022.4 829.9 1022.5 830.4 1022.6 830.9 1022.7 831.4 1022.8 831.9 1022.9 832.4 1023.0 832.9 1023.1 833.4 1023.1 833.9 1023.2 834.4 1023.3 834.9 1023.3 835.4 1023.4 835.9 1023.4 836.2 1023.4 836.4 1023.4 836.9 1023.4 837.4 1023.4 837.9 1023.4 838.4 1023.4 838.9 1023.4 839.4 1023.5 839.9 1023.5 840.4 1023.5 840.9 1023.5 841.4 1023.5 841.9 1023.5 842.4 1023.5 842.9 1023.5 843.4 1023.5 843.9 1023.5 844.4 1023.6 844.9 1023.6 845.4 1023.6 845.9 1023.6 846.4 1023.6 846.9 1023.6 847.4 1023.6 847.9 1023.6 848.4 1023.6 848.9 1023.6 849.4 1023.6 849.9 1023.6 850.4 1023.6 850.9 1023.6 851.4 1023.6 851.9 1023.6 852.4 1023.6 852.9 1023.6 853.4 1023.7 853.9 1023.7 854.4 1023.7 854.9 1023.7 855.4 1023.7 855.9 1023.7 856.4 1023.7 856.9 1023.7 857.4 1023.7 857.9 1023.7 858.4 1023.7 858.8 1023.7 858.9 1023.7 859.4 1023.7 859.9 1023.7 860.0 1023.7 860.4 1023.7 860.9 1023.6 861.4 1023.6 861.9 1023.5 862.4 1023.4 862.9 1023.3 863.4 1023.2 863.9 1023.1 864.4 1023.0 864.9 1022.8 865.4 1022.7 865.9 1022.5 866.4 1022.4 866.9 1022.2 867.4 1022.0 867.9 1021.9 868.4 1021.7 868.5 1021.7 868.9 1021.5 869.4 1021.3 869.9 1021.1 870.4 1020.8 870.9 1020.5 871.4 1020.1 871.9 1019.8 872.4 1019.4 872.9 1019.1 873.4 1018.7 873.9 1018.4 874.4 1018.1 874.9 1017.8 875.4 1017.5 875.9 1017.2 876.4 1017.0 876.9 1016.8 877.4 1016.7 877.9 1016.6 878.3 1016.6 878.4 1016.6 878.9 1016.7 879.4 1016.7 879.9 1016.9 880.4 1017.0 880.9 1017.2 881.4 1017.4 881.9 1017.6 882.4 1017.9 882.9 1018.1 883.4 1018.3 883.9 1018.6 884.0 1018.6 884.4 1018.8 884.9 1019.1 885.4 1019.5 885.9 1019.8 886.4 1020.2 886.9 1020.6 887.4 1021.0 887.9 1021.4 888.4 1021.8 888.9 1022.1 889.4 1022.4 889.9 1022.6 890.4 1022.8 890.9 1022.8 891.0 1022.8 891.4 1022.8 891.9 1022.7 892.4 1022.5 892.9 1022.3 893.4 1022.0 893.9 1021.6 894.4 1021.2 894.9 1020.7 895.4 1020.2 895.9 1019.7 896.4 1019.1 896.9 1018.5 897.4 1017.9 897.9 1017.3 898.4 1016.6 898.9 1016.0 899.4 1015.3 899.5 1015.2 899.9 1014.6 900.4 1013.7 900.9 1012.6 901.4 1011.5 901.9 1010.2 902.4 1008.9 902.9 1007.5 903.4 1006.1 903.9 1004.7 904.4 1003.4 904.9 1002.0 905.4 1000.8 905.9 999.6 906.4 998.5 906.5 998.3 906.9 997.5 907.4 996.4 907.9 995.3 908.4 994.2 908.9 993.3 909.4 992.5 909.9 992.1 910.2 992.1 910.4 992.1 910.9 992.8 911.4 994.0 911.9 995.6 912.4 997.4 912.9 999.1 913.4 1000.7 913.6 1001.1 913.9 1001.9 914.4 1003.2 914.9 1004.5 915.4 1005.8 915.9 1007.1 916.4 1008.3 916.9 1009.5 917.4 1010.7 917.9 1011.7 918.4 1012.6 918.9 1013.4 919.2 1013.8 919.4 1014.0 919.9 1014.6 920.4 1015.2 920.9 1015.8 921.4 1016.4 921.9 1016.9 922.4 1017.4 922.9 1018.0 923.4 1018.5 923.9 1018.9 924.4 1019.4 924.9 1019.8 925.4 1020.2 925.9 1020.6 926.4 1020.9 926.9 1021.3 927.4 1021.5 927.9 1021.8 928.4 1022.0 928.9 1022.2 929.4 1022.4 929.9 1022.5 930.4 1022.5 930.5 1022.5 930.9 1022.6 931.4 1022.6 931.9 1022.6 932.4 1022.7 932.9 1022.7 933.4 1022.7 933.9 1022.8 934.4 1022.8 934.9 1022.8 935.4 1022.9 935.9 1022.9 936.4 1022.9 936.9 1022.9 937.4 1023.0 937.9 1023.0 938.4 1023.0 938.9 1023.0 939.4 1023.0 939.9 1023.0 940.4 1023.1 940.9 1023.1 941.4 1023.1 941.9 1023.1 942.4 1023.1 942.9 1023.1 943.4 1023.1 943.9 1023.1 944.4 1023.1 944.6 1023.1 944.9 1023.1 945.4 1023.1 945.9 1023.1 946.4 1023.1 946.9 1023.1 947.4 1023.1 947.9 1023.0 948.4 1023.0 948.9 1023.0 949.4 1023.0 949.9 1022.9 950.4 1022.9 950.9 1022.9 951.4 1022.9 951.9 1022.8 952.4 1022.8 952.9 1022.8 953.4 1022.7 953.9 1022.7 954.4 1022.6 954.9 1022.6 955.4 1022.6 955.9 1022.5 956.4 1022.5 956.9 1022.5 957.4 1022.4 957.9 1022.4 958.4 1022.4 958.9 1022.3 959.4 1022.3 959.9 1022.3 960.4 1022.2 960.9 1022.2 961.4 1022.2 961.9 1022.1 962.4 1022.1 962.9 1022.1 963.4 1022.1 963.9 1022.0 964.4 1022.0 964.9 1022.0 965.4 1022.0 965.9 1022.0 966.4 1022.0 966.9 1022.0 967.2 1022.0 967.4 1022.0 967.9 1022.0 968.4 1022.0 968.9 1022.0 969.4 1022.1 969.9 1022.1 970.4 1022.2 970.9 1022.2 971.4 1022.3 971.9 1022.3 972.4 1022.4 972.9 1022.5 973.4 1022.5 973.9 1022.6 974.4 1022.7 974.9 1022.7 975.4 1022.8 975.9 1022.8 976.4 1022.9 976.9 1022.9 977.4 1023.0 977.9 1023.0 978.4 1023.1 978.9 1023.1 979.4 1023.1 979.9 1023.1 979.9 1023.1 980.4 1023.0 980.9 1022.8 981.4 1022.5 981.9 1022.1 982.4 1021.7 982.9 1021.3 983.4 1020.8 983.9 1020.4 984.4 1020.1 984.9 1019.9 985.4 1019.7 985.5 1019.7 985.9 1019.7 986.4 1019.6 986.9 1019.6 987.4 1019.6 987.9 1019.5 988.4 1019.5 988.9 1019.5 989.4 1019.5 989.9 1019.4 990.4 1019.4 990.9 1019.4 991.4 1019.4 991.9 1019.3 992.4 1019.3 992.9 1019.3 993.4 1019.3 993.9 1019.3 994.4 1019.2 994.9 1019.2 995.4 1019.2 995.9 1019.2 996.4 1019.2 996.9 1019.2 997.4 1019.2 997.9 1019.2 998.4 1019.2 998.9 1019.2 999.4 1019.2 999.9 1019.2 1000.4 1019.2 1000.9 1019.2 1001.0 1019.2 1001.4 1019.2 1001.9 1019.3 1002.4 1019.4 1002.9 1019.6 1003.4 1019.8 1003.9 1020.1 1004.4 1020.4 1004.9 1020.6 1005.4 1020.9 1005.9 1021.1 1006.4 1021.3 1006.7 1021.4 1006.9 1021.5 1007.4 1021.7 1007.9 1021.8 1008.4 1022.0 1008.9 1022.2 1009.4 1022.3 1009.9 1022.5 1010.4 1022.7 1010.9 1022.9 1011.4 1023.0 1011.9 1023.2 1012.4 1023.3 1012.9 1023.4 1013.4 1023.6 1013.9 1023.7 1014.4 1023.8 1014.9 1023.8 1015.4 1023.9 1015.9 1023.9 1016.4 1023.9 1016.6 1023.9 1016.9 1023.9 1017.4 1023.9 1017.9 1023.9 1018.4 1023.9 1018.9 1023.8 1019.4 1023.8 1019.9 1023.7 1020.4 1023.6 1020.9 1023.5 1021.4 1023.5 1021.9 1023.4 1022.4 1023.3 1022.9 1023.2 1023.4 1023.1 1023.9 1022.9 1024.4 1022.8 1024.9 1022.7 1025.4 1022.6 1025.9 1022.5 1026.4 1022.3 1026.9 1022.2 1027.4 1022.1 1027.9 1022.0 1028.4 1021.9 1028.9 1021.8 1029.3 1021.7 1029.4 1021.7 1029.9 1021.6 1030.4 1021.5 1030.9 1021.4 1031.4 1021.3 1031.9 1021.2 1032.4 1021.1 1032.9 1021.0 1033.4 1020.9 1033.9 1020.8 1034.4 1020.7 1034.9 1020.5 1035.4 1020.4 1035.9 1020.2 1036.4 1020.0 1036.9 1019.8 1037.4 1019.6 1037.7 1019.4 1037.9 1019.3 1038.4 1018.8 1038.9 1018.0 1039.4 1017.0 1039.9 1015.8 1040.4 1014.4 1040.9 1012.8 1041.4 1011.0 1041.9 1009.1 1041.9 1009.0 1042.4 1006.6 1042.9 1003.3 1043.4 999.1 1043.9 994.0 1044.4 988.1 1044.8 983.6 1044.9 981.2 1045.4 970.6 1045.9 957.1 1046.4 942.2 1046.7 932.8 1046.9 926.7 1047.4 906.2 1047.9 886.5 1048.4 876.4 1048.4 876.4 1048.9 874.8 1049.4 873.8 1049.9 873.1 1050.4 872.5 1050.9 871.6 1051.3 870.8 1051.4 870.2 1051.9 868.3 1052.4 865.9 1052.9 862.9 1053.4 859.3 1053.9 855.2 1054.4 850.4 1054.6 848.2 1054.9 844.3 1055.4 834.5 1055.9 822.9 1056.1 820.0 1056.4 811.9 1056.9 802.4 1057.4 793.8 1057.9 785.7 1058.4 777.5 1058.9 768.7 1059.4 758.7 1059.9 747.0 1060.4 733.0 1060.9 716.3 1061.4 696.3 1061.9 672.4 1062.4 644.2 1062.8 620.0 1062.9 602.0 1063.4 441.8 1063.5 420.0 1063.9 334.9 1064.2 230.0 1064.3 47.0 1064.4 18.3 1064.9 -50.0 1065.4 -50.0 1065.9 -50.0 1066.4 -50.0 1066.9 -50.0 1067.4 -50.0 1067.9 -50.0 1068.4 -50.0 1068.9 -50.0 1069.4 -50.0 1069.9 -50.0 1070.4 -50.0 1070.9 -50.0 1071.4 -50.0 1071.9 -50.0 1072.0 -50.0 1072.4 -50.0 1072.9 -50.0 1073.4 -50.0 1073.9 -50.0 1074.4 -50.0 1074.9 -50.0 1075.4 -50.0 1075.9 -50.0 1076.4 -50.0 1076.9 -50.0 1077.4 -50.0 1077.9 -50.0 1078.4 -50.0 1078.9 -50.0 1079.4 -30.1 1079.9 11.7 1080.4 47.0 1080.4 48.9 1080.9 82.4 1081.4 114.1 1081.9 145.2 1082.4 177.0 1082.9 210.5 1083.2 230.0 1083.4 247.5 1083.9 290.5 1084.4 335.9 1084.9 379.1 1085.4 415.5 1085.5 420.0 1085.9 444.8 1086.4 472.1 1086.9 497.7 1087.4 521.5 1087.9 543.6 1088.4 564.3 1088.9 583.4 1089.4 601.2 1089.9 617.7 1090.0 620.0 1090.4 633.2 1090.9 648.0 1091.4 662.1 1091.9 675.7 1092.4 688.8 1092.9 701.3 1093.4 713.4 1093.9 725.0 1094.4 736.2 1094.9 747.0 1095.4 757.5 1095.9 767.6 1096.4 777.5 1096.9 787.2 1097.4 796.6 1097.9 805.9 1098.4 815.1 1098.7 820.0 1098.9 824.1 1099.4 833.1 1099.9 842.0 1100.4 850.8 1100.9 859.4 1101.4 868.0 1101.9 876.4 1102.4 884.6 1102.9 892.6 1103.4 900.4 1103.9 908.0 1104.4 915.3 1104.9 922.4 1105.4 929.2 1105.9 935.7 1106.4 941.8 1106.9 947.6 1107.4 953.1 1107.9 958.1 1108.2 961.0 1108.4 962.8 1108.9 967.3 1109.4 971.6 1109.9 975.7 1110.4 979.7 1110.9 983.4 1111.4 986.9 1111.9 990.2 1112.4 993.2 1112.9 996.0 1113.4 998.5 1113.9 1000.5 1113.9 1000.7 1114.4 1002.8 1114.9 1004.7 1115.4 1006.6 1115.9 1008.4 1116.4 1010.0 1116.9 1011.6 1117.4 1013.0 1117.9 1014.3 1118.4 1015.4 1118.9 1016.4 1119.4 1017.3 1119.5 1017.5 1119.9 1018.1 1120.4 1018.8 1120.9 1019.5 1121.4 1020.2 1121.9 1020.9 1122.4 1021.5 1122.9 1022.1 1123.4 1022.7 1123.9 1023.2 1124.4 1023.7 1124.9 1024.1 1125.4 1024.5 1125.9 1024.9 1126.4 1025.2 1126.9 1025.5 1127.4 1025.7 1127.9 1025.9 1128.0 1025.9 1128.4 1026.1 1128.9 1026.2 1129.4 1026.3 1129.9 1026.5 1130.4 1026.6 1130.9 1026.7 1131.4 1026.8 1131.9 1027.0 1132.4 1027.1 1132.9 1027.2 1133.4 1027.3 1133.9 1027.4 1134.4 1027.5 1134.9 1027.6 1135.4 1027.6 1135.9 1027.7 1136.4 1027.8 1136.9 1027.8 1137.4 1027.9 1137.9 1028.0 1138.4 1028.0 1138.9 1028.1 1139.4 1028.1 1139.9 1028.1 1140.4 1028.1 1140.9 1028.2 1141.4 1028.2 1141.9 1028.2 1142.1 1028.2 1142.1 1028.2 1142.4 1028.2 1142.9 1028.2 1143.4 1028.2 1143.9 1028.2 1144.4 1028.2 1144.9 1028.2 1145.4 1028.2 1145.9 1028.2 1146.4 1028.2 1146.9 1028.2 1147.4 1028.2 1147.9 1028.2 1148.4 1028.2 1148.9 1028.2 1149.4 1028.2 1149.9 1028.2 1150.4 1028.2 1150.9 1028.2 1151.4 1028.2 1151.9 1028.2 1152.4 1028.2 1152.9 1028.2 1153.4 1028.2 1153.9 1028.2 1154.4 1028.2 1154.9 1028.2 1155.4 1028.2 1155.9 1028.2 1156.4 1028.2 1156.9 1028.2 1157.4 1028.2 1157.9 1028.2 1158.4 1028.2 1158.9 1028.2 1159.4 1028.2 1159.9 1028.2 1160.4 1028.2 1160.9 1028.2 1161.4 1028.2 1161.9 1028.2 1162.4 1028.2 1162.9 1028.2 1163.4 1028.2 1163.9 1028.2 1164.4 1028.2 1164.9 1028.2 1165.4 1028.2 1165.9 1028.2 1166.4 1028.2 1166.9 1028.2 1167.4 1028.2 1167.9 1028.2 1168.4 1028.2 1168.9 1028.2 1169.4 1028.2 1169.9 1028.2 1170.0 1028.2 1170.4 1028.2 1170.9 1028.2 1171.4 1028.2 1171.9 1028.2 1172.4 1028.2 1172.9 1028.2 1173.4 1028.2 1173.9 1028.2 1174.4 1028.2 1174.9 1028.2 1175.4 1028.2 1175.9 1028.2 1176.4 1028.2 1176.9 1028.1 1177.4 1028.1 1177.9 1028.1 1178.4 1028.1 1178.9 1028.1 1179.4 1028.1 1179.9 1028.1 1180.4 1028.1 1180.9 1028.1 1181.4 1028.0 1181.9 1028.0 1182.4 1028.0 1182.9 1028.0 1183.4 1028.0 1183.9 1027.9 1184.4 1027.9 1184.9 1027.9 1185.4 1027.9 1185.9 1027.8 1186.4 1027.8 1186.9 1027.8 1187.4 1027.8 1187.5 1027.8 1187.9 1027.7 1188.4 1027.5 1188.9 1027.1 1189.4 1026.7 1189.9 1026.1 1190.4 1025.6 1190.9 1024.9 1191.4 1024.3 1191.4 1024.3 1191.9 1023.5 1192.4 1022.5 1192.9 1021.3 1193.4 1019.9 1193.9 1018.1 1194.0 1017.7 1194.4 1015.8 1194.9 1012.3 1195.4 1008.0 1195.8 1004.6 1195.9 1003.2 1196.4 997.3 1196.9 990.4 1197.3 984.9 1197.4 983.5 1197.9 976.4 1198.4 969.1 1198.9 963.1 1198.9 962.0 1199.4 954.9 1199.9 947.9 1200.4 941.2 1200.6 939.0 1200.9 935.0 1201.4 929.1 1201.9 923.6 1202.3 919.3 1202.4 918.6 1202.9 913.6 1203.4 909.1 1203.9 906.2 1203.9 906.0 1204.4 903.9 1204.9 902.2 1205.4 901.3 1205.6 901.2 1205.9 901.3 1206.4 902.1 1206.9 903.2 1207.4 904.6 1207.6 905.1 1207.9 906.3 1208.4 908.8 1208.9 911.7 1209.4 914.9 1209.8 917.2 1209.9 918.1 1210.4 921.3 1210.9 924.7 1211.4 928.2 1211.9 931.8 1212.4 935.4 1212.6 936.8 1212.9 939.0 1213.4 942.7 1213.9 946.4 1214.4 950.1 1214.9 953.9 1215.4 957.5 1215.9 960.9 1215.9 961.1 1216.4 964.5 1216.9 968.0 1217.4 971.5 1217.9 974.8 1218.4 978.1 1218.9 981.2 1219.2 982.7 1219.4 984.2 1219.9 987.1 1220.4 990.0 1220.9 992.8 1221.4 995.4 1221.9 997.9 1222.4 1000.1 1222.5 1000.2 1222.9 1002.1 1223.4 1004.0 1223.9 1005.7 1224.4 1007.4 1224.9 1008.9 1225.4 1010.3 1225.7 1011.1 1225.9 1011.6 1226.4 1012.8 1226.9 1014.0 1227.4 1015.1 1227.9 1016.2 1228.4 1017.2 1228.9 1018.1 1229.4 1018.9 1229.9 1019.6 1230.1 1019.9 1230.4 1020.3 1230.9 1021.0 1231.4 1021.6 1231.9 1022.2 1232.4 1022.7 1232.9 1023.2 1233.4 1023.7 1233.9 1024.2 1234.4 1024.6 1234.9 1024.9 1235.4 1025.3 1235.6 1025.4 1235.9 1025.6 1236.4 1025.8 1236.9 1026.1 1237.4 1026.4 1237.9 1026.7 1238.4 1026.9 1238.9 1027.1 1239.4 1027.4 1239.9 1027.5 1240.4 1027.7 1240.9 1027.8 1241.4 1027.9 1241.9 1028.0 1242.1 1028.0 1242.4 1028.0 1242.9 1028.0 1243.4 1028.0 1243.9 1028.0 1244.4 1028.0 1244.9 1028.1 1245.4 1028.1 1245.9 1028.1 1246.4 1028.1 1246.9 1028.1 1247.4 1028.1 1247.9 1028.1 1248.4 1028.1 1248.9 1028.1 1249.4 1028.1 1249.9 1028.1 1250.4 1028.2 1250.9 1028.2 1251.4 1028.2 1251.9 1028.2 1252.4 1028.2 1252.9 1028.2 1253.4 1028.2 1253.9 1028.2 1254.4 1028.2 1254.9 1028.2 1255.4 1028.2 1255.9 1028.2 1256.4 1028.2 1256.9 1028.2 1257.4 1028.2 1257.4 1028.2 1257.9 1028.2 1258.4 1028.2 1258.9 1028.2 1259.4 1028.2 1259.9 1028.2 1260.4 1028.2 1260.9 1028.2 1261.4 1028.2 1261.9 1028.2 1262.4 1028.2 1262.9 1028.2 1263.4 1028.2 1263.9 1028.2 1264.4 1028.2 1264.9 1028.2 1265.4 1028.2 1265.9 1028.2 1266.4 1028.2 1266.9 1028.2 1267.4 1028.2 1267.9 1028.2 1268.4 1028.2 1268.9 1028.2 1269.4 1028.2 1269.9 1028.2 1270.4 1028.2 1270.9 1028.2 1271.4 1028.2 1271.9 1028.2 1272.4 1028.2 1272.9 1028.2 1273.4 1028.2 1273.9 1028.2 1274.4 1028.2 1274.9 1028.2 1275.4 1028.2 1275.9 1028.2 1276.4 1028.2 1276.9 1028.2 1277.4 1028.2 1277.9 1028.2 1278.4 1028.2 1278.9 1028.2 1279.4 1028.2 1279.9 1028.2 1280.4 1028.2 1280.9 1028.2 1281.4 1028.2 1281.9 1028.2 1282.4 1028.2 1282.9 1028.2 1283.4 1028.2 1283.9 1028.2 1284.4 1028.2 1284.9 1028.2 1285.2 1028.2"/>
<path d="M232.4 883.2 232.9 883.1 233.4 883.0 233.9 882.9 234.4 882.8 234.9 882.8 235.4 882.7 235.9 882.6 236.4 882.5 236.9 882.5 237.4 882.4 237.9 882.3 238.4 882.2 238.9 882.1 239.4 882.0 239.9 882.0 240.4 881.9 240.9 881.8 241.4 881.7 241.9 881.6 242.4 881.5 242.9 881.5 243.4 881.4 243.9 881.3 244.3 881.2 244.4 881.2 244.9 881.1 245.4 881.1 245.9 881.0 246.4 881.0 246.9 880.9 247.4 880.8 247.9 880.8 248.4 880.7 248.9 880.5 249.4 880.4 249.9 880.2 250.0 880.2 250.4 878.9 250.9 875.9 251.4 871.8 251.7 869.0 251.9 867.2 252.4 860.0 252.9 852.7 253.2 849.7 253.4 848.4 253.9 845.2 254.4 842.3 254.9 840.1 255.4 838.6 255.9 838.1 255.9 838.1 256.4 839.3 256.9 842.0 257.4 845.6 257.9 849.3 258.0 849.7 258.4 853.6 258.9 859.0 259.4 864.1 259.9 867.5 259.9 867.6 260.4 869.8 260.9 871.6 261.4 873.1 261.9 874.0 262.1 874.2 262.4 874.4 262.9 874.8 263.4 875.0 263.9 875.2 264.4 875.4 264.9 875.6 265.4 875.7 265.9 875.9 266.4 876.0 266.9 876.1 267.4 876.3 267.9 876.4 268.1 876.5 268.4 876.6 268.9 876.8 269.4 877.0 269.9 877.2 270.4 877.4 270.9 877.6 271.4 877.8 271.9 877.9 272.4 877.9 272.5 877.9 272.9 877.9 273.4 877.9 273.9 877.8 274.4 877.7 274.9 877.6 275.4 877.5 275.9 877.4 276.4 877.3 276.9 877.3 277.4 877.2 277.7 877.2 277.9 877.2 278.4 877.4 278.9 877.8 279.4 878.4 279.9 878.9 280.4 879.5 280.9 879.9 281.4 880.2 281.5 880.2 281.9 880.3 282.4 880.5 282.9 880.6 283.4 880.7 283.9 880.8 284.4 880.9 284.9 881.0 285.4 881.1 285.9 881.1 286.4 881.2 286.9 881.2 287.4 881.2 287.4 881.2 287.9 881.2 288.4 881.2 288.9 881.2 289.4 881.2 289.9 881.2 290.4 881.2 290.9 881.2 291.4 881.2 291.9 881.2 292.4 881.2 292.9 881.2 293.4 881.2 293.9 881.2 294.4 881.2 294.8 881.2 294.9 881.2 295.4 880.9 295.9 880.3 296.4 879.5 296.9 878.6 297.4 877.8 297.8 877.2 297.9 877.0 298.4 876.3 298.9 875.5 299.4 874.7 299.9 874.0 300.4 873.4 300.9 873.0 301.4 872.8 301.5 872.7 301.9 872.8 302.4 873.2 302.9 873.7 303.4 874.3 303.9 874.9 304.4 875.4 304.9 875.7 305.2 875.7 305.4 875.7 305.9 875.7 306.4 875.7 306.9 875.7 307.4 875.7 307.9 875.7 308.4 875.7 308.9 875.7 309.0 875.7 309.4 875.1 309.9 873.4 310.4 871.1 310.9 868.7 311.2 867.5 311.4 866.3 311.9 863.3 312.4 860.1 312.9 857.3 313.4 855.7 313.4 855.6 313.9 854.7 314.4 854.0 314.9 853.4 315.4 852.9 315.9 852.4 316.4 852.0 316.9 851.4 317.1 851.2 317.4 850.8 317.9 850.0 318.4 849.2 318.9 848.4 319.4 847.8 319.9 847.4 320.1 847.3 320.4 847.3 320.9 847.2 321.4 847.1 321.9 847.0 322.4 847.0 322.9 846.9 323.4 846.9 323.8 846.9 323.9 846.9 324.4 847.1 324.9 847.4 325.4 847.9 325.9 848.4 326.4 848.9 326.9 849.4 327.4 849.7 327.5 849.7 327.9 849.9 328.4 850.0 328.9 850.1 329.4 850.2 329.9 850.3 330.4 850.4 330.5 850.5 330.9 850.6 331.4 850.8 331.9 851.1 332.4 851.3 332.9 851.6 333.4 851.9 333.5 851.9 333.9 852.3 334.4 852.8 334.9 853.3 335.4 853.8 335.9 854.4 336.4 854.9 336.9 855.3 337.4 855.6 337.9 855.7 337.9 855.7 338.4 855.6 338.9 855.5 339.4 855.2 339.9 854.9 340.4 854.6 340.9 854.2 340.9 854.1 341.4 853.2 341.9 851.7 342.4 850.3 342.9 849.4 343.1 849.3 343.4 849.4 343.9 849.9 344.4 850.7 344.9 851.8 345.4 852.7 345.4 852.9 345.9 854.3 346.4 856.2 346.9 858.1 347.4 859.7 347.6 860.1 347.9 860.8 348.4 861.8 348.9 862.6 349.4 863.3 349.9 864.0 350.4 864.7 350.9 865.5 351.3 866.1 351.4 866.3 351.9 867.3 352.4 868.4 352.9 869.6 353.4 870.7 353.9 871.6 354.4 872.3 354.9 872.7 355.0 872.7 355.4 872.8 355.9 872.9 356.4 873.0 356.9 873.1 357.4 873.2 357.9 873.3 358.4 873.3 358.9 873.4 359.4 873.4 359.9 873.4 360.4 873.5 360.9 873.5 361.4 873.5 361.7 873.5 361.9 873.5 362.4 873.4 362.9 873.2 363.4 873.0 363.9 872.8 364.4 872.5 364.9 872.2 365.4 872.0 365.9 871.7 366.4 871.5 366.9 871.4 367.4 871.3 367.6 871.3 367.9 871.3 368.4 871.4 368.9 871.5 369.4 871.7 369.9 872.0 370.4 872.3 370.9 872.6 371.4 872.8 371.9 873.1 372.4 873.3 372.9 873.4 373.4 873.5 373.6 873.5 373.9 873.5 374.4 873.4 374.9 873.3 375.4 873.2 375.9 873.1 376.4 872.9 376.9 872.7 377.4 872.6 377.9 872.4 378.4 872.3 378.9 872.1 379.4 872.0 379.5 872.0 379.9 871.9 380.4 871.9 380.9 871.8 381.4 871.7 381.9 871.6 382.4 871.5 382.9 871.5 383.4 871.4 383.9 871.3 384.4 871.3 384.9 871.3 385.4 871.3 385.5 871.3 385.9 871.3 386.4 871.5 386.9 871.7 387.4 872.0 387.9 872.3 388.4 872.7 388.9 873.0 389.4 873.3 389.9 873.5 389.9 873.5 390.4 873.7 390.9 873.9 391.4 874.1 391.9 874.2 392.4 874.4 392.9 874.6 393.4 874.7 393.9 874.9 394.4 875.0 394.9 875.1 395.4 875.2 395.9 875.3 395.9 875.3 396.4 875.3 396.9 875.4 397.4 875.5 397.9 875.5 398.4 875.6 398.9 875.6 399.4 875.7 399.9 875.7 400.4 875.8 400.9 875.8 401.4 875.9 401.9 875.9 402.4 876.0 402.9 876.0 403.4 876.0 403.9 876.1 404.4 876.1 404.9 876.1 405.4 876.1 405.9 876.1 406.4 876.2 406.9 876.2 407.4 876.2 407.8 876.2 407.9 876.2 408.4 876.1 408.9 876.1 409.4 876.0 409.9 875.9 410.4 875.8 410.9 875.7 411.4 875.5 411.9 875.4 412.4 875.3 412.9 875.1 413.4 875.0 413.9 874.9 414.4 874.8 414.9 874.7 415.4 874.7 415.9 874.7 415.9 874.7 416.4 874.8 416.9 875.0 417.4 875.2 417.9 875.6 418.4 875.9 418.9 876.2 419.4 876.4 419.7 876.5 419.9 876.5 420.4 876.6 420.9 876.7 421.4 876.8 421.9 876.9 422.4 877.0 422.9 877.0 423.4 877.1 423.9 877.1 424.4 877.2 424.9 877.2 425.0 877.2 425.4 877.2 425.9 877.3 426.4 877.3 426.9 877.3 427.4 877.3 427.9 877.4 428.4 877.4 428.9 877.4 429.4 877.4 429.9 877.4 430.4 877.4 430.9 877.4 431.1 877.4 431.4 877.4 431.9 877.4 432.4 877.4 432.9 877.4 433.4 877.4 433.9 877.4 434.4 877.4 434.9 877.4 435.4 877.4 435.9 877.4 436.4 877.4 436.9 877.4 437.4 877.4 437.9 877.4 438.4 877.4 438.9 877.4 439.4 877.4 439.9 877.4 440.1 877.4 440.4 877.4 440.9 877.2 441.4 876.9 441.9 876.5 442.4 876.0 442.9 875.6 443.4 875.1 443.9 874.8 444.4 874.6 444.5 874.5 444.9 874.4 445.4 874.3 445.9 874.2 446.4 874.2 446.9 874.1 447.4 874.1 447.9 874.0 448.4 873.9 448.9 873.9 449.4 873.8 449.9 873.7 450.4 873.6 450.9 873.5 451.2 873.4 451.4 873.4 451.9 873.2 452.4 872.9 452.9 872.6 453.4 872.2 453.9 871.7 454.4 871.1 454.9 870.4 455.3 869.8 455.4 868.3 455.9 842.5 456.4 792.4 456.9 728.5 457.4 661.2 457.9 600.8 458.4 557.8 458.9 542.6 458.9 542.6 459.4 547.7 459.9 560.4 460.4 578.6 460.9 600.3 461.4 623.5 461.9 646.0 462.3 661.0 462.4 665.9 462.9 685.9 463.4 706.5 463.7 717.5 463.9 727.2 464.4 749.2 464.9 768.7 465.1 773.9 465.4 782.7 465.9 795.2 466.4 806.4 466.9 816.0 467.4 823.9 467.9 829.7 468.0 830.3 468.4 833.9 468.9 837.7 469.4 841.1 469.9 844.2 470.4 846.8 470.9 849.0 471.4 850.8 471.9 852.3 472.2 852.9 472.4 853.4 472.9 854.4 473.4 855.3 473.9 856.2 474.4 857.0 474.9 857.8 475.4 858.5 475.9 859.1 476.4 859.7 476.9 860.1 477.4 860.6 477.9 860.9 478.4 861.1 478.9 861.3 479.2 861.3 479.4 861.3 479.9 861.4 480.4 861.4 480.9 861.5 481.4 861.5 481.9 861.6 482.4 861.6 482.9 861.6 483.4 861.7 483.9 861.7 484.4 861.8 484.9 861.8 485.4 861.8 485.9 861.9 486.4 861.9 486.9 861.9 487.4 861.9 487.9 862.0 488.4 862.0 488.9 862.0 489.4 862.0 489.9 862.1 490.4 862.1 490.9 862.1 491.4 862.1 491.9 862.1 492.4 862.2 492.9 862.2 493.4 862.2 493.9 862.2 494.4 862.2 494.9 862.2 495.4 862.2 495.9 862.3 496.4 862.3 496.9 862.3 497.4 862.3 497.9 862.3 498.4 862.3 498.9 862.3 499.4 862.3 499.9 862.3 500.4 862.3 500.9 862.3 501.4 862.3 501.9 862.3 502.1 862.3 502.4 862.3 502.9 862.3 503.4 862.3 503.9 862.3 504.4 862.3 504.9 862.2 505.4 862.2 505.9 862.2 506.4 862.1 506.9 862.1 507.4 862.0 507.9 862.0 508.4 861.9 508.9 861.9 509.4 861.8 509.9 861.8 510.4 861.7 510.9 861.7 511.4 861.6 511.9 861.5 512.4 861.5 512.9 861.4 513.4 861.3 513.9 861.2 514.4 861.2 514.9 861.1 515.4 861.0 515.9 860.9 516.4 860.9 516.9 860.8 517.4 860.7 517.9 860.6 518.4 860.6 518.9 860.5 519.4 860.4 519.9 860.4 520.4 860.3 520.9 860.2 521.4 860.2 521.9 860.1 522.4 860.0 522.9 860.0 523.4 859.9 523.9 859.9 524.4 859.8 524.9 859.8 525.4 859.7 525.9 859.7 526.4 859.6 526.9 859.6 527.4 859.6 527.9 859.5 528.4 859.5 528.9 859.5 529.4 859.5 529.9 859.5 530.3 859.5 530.4 859.5 530.9 859.5 531.4 859.5 531.9 859.5 532.4 859.5 532.9 859.5 533.4 859.5 533.9 859.5 534.4 859.5 534.9 859.5 535.4 859.5 535.9 859.5 536.4 859.5 536.9 859.5 537.4 859.5 537.9 859.5 538.4 859.5 538.9 859.5 539.4 859.5 539.9 859.5 540.0 859.5 540.4 859.5 540.9 859.5 541.4 859.4 541.9 859.4 542.4 859.3 542.9 859.2 543.4 859.1 543.9 859.0 544.4 858.9 544.9 858.8 545.4 858.6 545.9 858.5 546.4 858.3 546.9 858.2 547.4 858.0 547.9 857.9 548.4 857.7 548.9 857.5 549.4 857.4 549.9 857.2 550.4 857.1 550.9 856.9 551.4 856.8 551.9 856.6 552.4 856.5 552.9 856.4 553.4 856.2 553.9 856.1 554.1 856.1 554.4 856.0 554.9 856.0 555.4 855.9 555.9 855.8 556.4 855.7 556.9 855.6 557.4 855.5 557.9 855.5 558.4 855.4 558.9 855.3 559.4 855.2 559.9 855.2 560.4 855.1 560.9 855.0 561.4 854.9 561.9 854.9 562.4 854.8 562.9 854.7 563.4 854.7 563.9 854.6 564.4 854.5 564.9 854.4 565.4 854.3 565.9 854.3 566.4 854.2 566.9 854.1 567.4 854.0 567.9 853.9 568.2 853.9 568.4 853.8 568.9 853.7 569.4 853.6 569.9 853.5 570.4 853.3 570.9 853.2 571.4 853.0 571.9 852.9 572.4 852.7 572.9 852.6 573.4 852.4 573.9 852.2 574.4 852.1 574.9 851.9 575.4 851.7 575.9 851.6 576.4 851.4 576.9 851.2 577.4 851.1 577.9 850.9 578.4 850.8 578.9 850.6 579.4 850.5 579.9 850.4 580.4 850.2 580.9 850.1 581.4 850.0 581.9 849.9 582.4 849.8 582.9 849.8 583.4 849.7 583.9 849.7 584.4 849.6 584.9 849.6 585.1 849.6 585.4 849.6 585.9 849.6 586.4 849.7 586.9 849.7 587.4 849.8 587.9 849.8 588.4 849.9 588.9 850.0 589.4 850.1 589.9 850.2 590.4 850.3 590.9 850.4 591.4 850.4 591.9 850.5 592.4 850.6 592.9 850.7 593.4 850.8 593.9 850.9 594.4 850.9 594.9 851.0 595.4 851.0 595.9 851.0 596.4 851.0 596.4 851.0 596.9 851.0 597.4 851.0 597.9 850.9 598.4 850.9 598.9 850.8 599.4 850.7 599.9 850.6 600.4 850.5 600.9 850.4 601.4 850.3 601.9 850.2 602.4 850.1 602.9 850.0 603.4 849.9 603.9 849.8 604.4 849.8 604.9 849.7 605.4 849.6 605.9 849.6 606.3 849.6 606.4 849.6 606.9 849.7 607.4 849.9 607.9 850.1 608.4 850.5 608.9 850.9 609.4 851.3 609.9 851.8 610.4 852.3 610.9 852.8 611.4 853.3 611.9 853.9 612.4 854.4 612.9 854.9 613.3 855.3 613.4 855.3 613.9 855.8 614.4 856.3 614.9 856.8 615.4 857.2 615.9 857.8 616.4 858.3 616.9 858.8 617.4 859.3 617.9 859.8 618.4 860.4 618.9 860.9 619.4 861.4 619.9 861.9 620.4 862.4 620.9 862.9 621.4 863.4 621.8 863.7 621.9 863.8 622.4 864.3 622.9 864.8 623.4 865.2 623.9 865.7 624.4 866.2 624.9 866.7 625.4 867.2 625.9 867.6 626.4 868.1 626.9 868.5 627.4 868.9 627.9 869.3 628.4 869.7 628.9 870.0 629.4 870.3 629.9 870.6 630.3 870.8 630.4 870.9 630.9 871.1 631.4 871.3 631.9 871.5 632.4 871.7 632.9 871.9 633.4 872.1 633.9 872.3 634.4 872.5 634.9 872.7 635.4 872.8 635.9 873.0 636.4 873.2 636.9 873.3 637.4 873.5 637.9 873.6 638.4 873.8 638.9 873.9 639.4 874.1 639.9 874.2 640.4 874.3 640.9 874.5 641.4 874.6 641.9 874.7 642.4 874.8 642.9 875.0 643.4 875.1 643.9 875.2 644.4 875.3 644.9 875.4 645.4 875.5 645.9 875.6 646.4 875.7 646.9 875.8 647.2 875.9 647.4 875.9 647.9 876.0 648.4 876.1 648.9 876.2 649.4 876.3 649.9 876.4 650.4 876.5 650.9 876.6 651.4 876.7 651.9 876.8 652.4 876.9 652.9 877.0 653.4 877.1 653.9 877.2 654.4 877.2 654.9 877.3 655.4 877.4 655.9 877.5 656.4 877.6 656.9 877.7 657.4 877.8 657.9 877.9 658.4 878.0 658.9 878.0 659.4 878.1 659.9 878.2 660.4 878.3 660.9 878.4 661.4 878.4 661.9 878.5 662.4 878.6 662.9 878.7 663.4 878.7 663.9 878.8 664.4 878.9 664.9 878.9 665.4 879.0 665.9 879.1 666.4 879.1 666.9 879.2 667.4 879.2 667.9 879.3 668.4 879.3 668.9 879.4 669.4 879.4 669.9 879.5 670.4 879.5 670.9 879.6 671.4 879.6 671.9 879.6 672.4 879.7 672.9 879.7 673.4 879.7 673.9 879.7 674.4 879.8 674.9 879.8 675.4 879.8 675.4 879.8 675.9 879.8 676.4 879.8 676.9 879.8 677.4 879.9 677.9 879.9 678.4 879.9 678.9 879.9 679.4 879.9 679.9 879.9 680.4 879.9 680.9 879.9 681.4 880.0 681.9 880.0 682.4 880.0 682.9 880.0 683.4 880.0 683.9 880.0 684.4 880.0 684.9 880.0 685.4 880.0 685.9 880.1 686.4 880.1 686.9 880.1 687.4 880.1 687.9 880.1 688.4 880.1 688.9 880.1 689.4 880.1 689.9 880.1 690.4 880.1 690.9 880.1 691.4 880.1 691.9 880.1 692.4 880.2 692.9 880.2 693.4 880.2 693.9 880.2 694.4 880.2 694.9 880.2 695.4 880.2 695.9 880.2 696.4 880.2 696.9 880.2 697.4 880.2 697.9 880.2 698.4 880.2 698.9 880.2 699.4 880.2 699.9 880.2 700.4 880.3 700.9 880.3 701.4 880.3 701.9 880.3 702.4 880.3 702.9 880.3 703.4 880.3 703.9 880.3 704.4 880.3 704.9 880.3 705.4 880.3 705.9 880.3 706.4 880.3 706.9 880.3 707.4 880.3 707.9 880.3 708.4 880.4 708.9 880.4 709.3 880.4 709.4 880.4 709.9 880.4 710.4 880.4 710.9 880.4 711.4 880.4 711.9 880.4 712.4 880.4 712.9 880.4 713.4 880.4 713.9 880.4 714.4 880.5 714.9 880.5 715.4 880.5 715.9 880.5 716.4 880.5 716.9 880.5 717.4 880.5 717.9 880.5 718.4 880.5 718.9 880.5 719.4 880.5 719.9 880.5 720.0 880.5 720.4 880.5 720.9 880.5 721.4 880.5 721.9 880.5 722.4 880.5 722.9 880.5 723.4 880.5 723.9 880.5 724.4 880.5 724.9 880.5 725.4 880.5 725.9 880.5 726.4 880.5 726.9 880.5 727.4 880.5 727.9 880.4 728.4 880.4 728.9 880.4 729.4 880.4 729.9 880.4 730.4 880.4 730.9 880.4 731.4 880.4 731.9 880.4 732.4 880.4 732.9 880.3 733.4 880.3 733.9 880.3 734.4 880.3 734.9 880.3 735.4 880.3 735.9 880.3 736.4 880.2 736.9 880.2 737.4 880.2 737.9 880.2 738.4 880.2 738.9 880.1 739.4 880.1 739.9 880.1 740.4 880.1 740.9 880.1 741.4 880.0 741.9 880.0 742.4 880.0 742.9 880.0 743.4 879.9 743.9 879.9 744.4 879.9 744.9 879.9 745.4 879.8 745.9 879.8 746.4 879.8 746.9 879.7 747.4 879.7 747.9 879.7 748.2 879.7 748.4 879.6 748.9 879.6 749.4 879.5 749.9 879.4 750.4 879.3 750.9 879.2 751.4 879.1 751.9 878.9 752.4 878.8 752.9 878.6 753.4 878.4 753.9 878.2 754.4 878.0 754.9 877.8 755.4 877.5 755.9 877.2 756.4 877.0 756.7 876.8 756.9 876.7 757.4 876.4 757.9 876.1 758.4 875.6 758.9 875.2 759.4 874.6 759.9 873.8 760.4 873.0 760.9 871.9 761.4 870.7 761.7 869.8 761.9 868.8 762.4 862.3 762.9 851.5 763.4 838.3 763.7 830.3 763.9 823.7 764.4 802.5 764.9 780.8 765.1 773.9 765.4 765.3 765.9 751.9 766.4 739.9 766.9 730.1 767.4 723.1 767.4 722.6 767.9 716.8 768.4 711.8 768.9 707.4 769.4 703.5 769.9 700.1 770.4 696.9 770.8 694.9 770.9 694.0 771.4 691.0 771.9 688.0 772.4 685.0 772.9 682.2 773.4 679.6 773.9 677.3 774.4 675.4 774.9 674.0 775.4 673.1 775.9 672.9 775.9 672.9 776.4 674.2 776.9 677.1 777.4 681.3 777.9 686.3 778.4 691.8 778.9 697.3 779.2 700.5 779.4 702.6 779.9 708.6 780.4 715.3 780.9 722.7 781.4 730.3 781.9 738.1 782.4 745.6 782.9 752.8 783.4 759.3 783.5 759.8 783.9 765.3 784.4 771.4 784.9 777.4 785.4 783.3 785.9 789.1 786.4 794.7 786.9 800.0 787.4 805.0 787.9 809.7 788.4 813.9 788.9 817.7 789.1 819.0 789.4 821.1 789.9 824.4 790.4 827.5 790.9 830.5 791.4 833.3 791.9 835.9 792.4 838.4 792.9 840.7 793.4 842.8 793.9 844.6 794.4 846.3 794.8 847.2 794.9 847.7 795.4 849.1 795.9 850.4 796.4 851.8 796.9 853.0 797.4 854.3 797.9 855.4 798.4 856.4 798.9 857.3 799.4 858.0 799.9 858.6 800.4 859.1 800.9 859.3 801.2 859.4 801.4 859.3 801.9 859.2 802.4 858.9 802.9 858.5 803.4 857.9 803.9 857.2 804.4 856.3 804.9 855.4 805.4 854.3 805.9 853.1 806.0 852.9 806.4 851.6 806.9 849.2 807.4 845.8 807.9 841.4 808.4 835.9 808.9 830.3 808.9 829.1 809.4 813.8 809.9 790.1 810.4 764.1 810.8 745.7 810.9 741.8 811.4 721.3 811.9 701.2 812.4 682.3 812.9 665.7 813.1 661.0 813.4 651.7 813.9 638.6 814.4 626.6 814.9 615.8 815.4 606.4 815.9 599.0 815.9 598.7 816.4 591.6 816.9 584.9 817.4 579.4 817.9 576.3 818.2 575.9 818.4 576.2 818.9 578.9 819.4 583.5 819.9 589.6 820.4 596.6 820.9 603.8 821.0 604.6 821.4 612.2 821.9 623.4 822.4 636.5 822.9 650.7 823.4 665.0 823.9 678.5 824.4 689.3 824.4 690.5 824.9 701.7 825.4 712.7 825.9 723.5 826.4 734.0 826.9 744.1 827.4 753.7 827.9 762.7 828.4 771.1 828.6 773.9 828.9 778.9 829.4 786.7 829.9 794.4 830.4 801.7 830.9 808.6 831.4 814.8 831.9 820.2 832.4 824.7 832.8 827.5 832.9 828.0 833.4 830.8 833.9 833.4 834.4 835.8 834.9 838.0 835.4 840.0 835.9 841.8 836.4 843.5 836.9 845.0 837.4 846.3 837.9 847.5 838.4 848.5 838.5 848.6 838.9 849.5 839.4 850.5 839.9 851.4 840.4 852.3 840.9 853.2 841.4 854.1 841.9 854.9 842.4 855.7 842.9 856.4 843.4 857.0 843.9 857.6 844.4 858.1 844.9 858.5 845.4 858.9 845.9 859.1 846.4 859.3 846.9 859.4 846.9 859.4 847.4 859.3 847.9 859.3 848.4 859.3 848.9 859.2 849.4 859.1 849.9 859.0 850.4 858.9 850.9 858.8 851.4 858.7 851.9 858.5 852.4 858.4 852.9 858.2 853.4 858.0 853.9 857.8 854.4 857.6 854.9 857.3 855.4 857.1 855.4 857.1 855.9 856.8 856.4 856.4 856.9 855.9 857.4 855.3 857.9 854.6 858.4 853.6 858.9 852.4 859.4 851.0 859.9 849.4 860.4 847.4 860.5 847.2 860.9 840.2 861.4 823.0 861.9 799.9 862.4 775.1 862.5 773.9 862.9 747.3 863.4 712.4 863.6 700.5 863.9 668.0 864.4 610.2 864.9 552.5 865.3 520.0 865.4 508.0 865.9 472.7 866.4 441.9 866.9 414.8 867.0 412.8 867.4 387.5 867.9 360.0 868.4 338.5 868.9 329.6 868.9 329.6 869.4 336.4 869.9 353.7 870.4 375.7 870.6 384.6 870.9 399.5 871.4 431.4 871.9 463.0 872.0 469.3 872.4 486.9 872.9 508.1 873.2 520.0 873.4 534.9 873.9 569.0 874.4 604.8 874.9 632.8 874.9 636.5 875.4 666.1 875.9 695.0 876.4 720.6 876.9 740.2 877.1 745.7 877.4 752.9 877.9 763.7 878.4 773.1 878.9 781.3 879.4 788.3 879.9 794.2 880.4 799.1 880.8 802.1 880.9 803.1 881.4 806.9 881.9 810.4 882.4 813.9 882.9 817.1 883.4 820.1 883.9 822.9 884.4 825.4 884.9 827.6 885.4 829.4 885.9 830.8 886.4 831.9 886.9 832.4 887.3 832.6 887.4 832.5 887.9 831.7 888.4 830.0 888.9 827.5 889.4 824.4 889.9 820.8 890.4 816.7 890.9 812.4 891.4 807.9 891.9 803.4 892.1 802.1 892.4 798.6 892.9 793.0 893.4 786.5 893.9 779.2 894.4 771.5 894.9 763.3 895.4 754.9 895.9 746.4 896.3 740.0 896.4 737.9 896.9 729.0 897.4 719.7 897.9 710.0 898.4 699.9 898.9 689.6 899.4 679.1 899.9 668.4 900.4 657.7 900.5 655.4 900.9 646.4 901.4 634.0 901.9 621.2 902.4 609.0 902.9 598.1 903.4 590.5 903.4 589.4 903.9 581.5 904.4 573.7 904.9 566.8 905.4 561.5 905.9 558.5 906.2 558.1 906.4 558.4 906.9 560.5 907.4 564.4 907.9 569.7 908.4 575.8 908.9 582.3 909.4 588.8 909.6 590.5 909.9 595.5 910.4 603.6 910.9 612.7 911.4 622.7 911.9 633.3 912.4 644.3 912.9 655.2 913.4 665.9 913.9 676.1 914.4 685.6 914.6 689.3 914.9 694.1 915.4 702.5 915.9 710.7 916.4 718.8 916.9 726.6 917.4 734.3 917.9 741.8 918.4 749.1 918.9 756.1 919.4 762.9 919.9 769.4 920.3 773.9 920.4 775.7 920.9 781.9 921.4 788.1 921.9 794.1 922.4 799.9 922.9 805.4 923.4 810.3 923.9 814.7 924.4 818.5 924.5 819.0 924.9 821.6 925.4 824.7 925.9 827.5 926.4 830.2 926.9 832.7 927.4 835.0 927.9 837.2 928.4 839.2 928.9 840.9 929.4 842.5 929.9 843.9 930.2 844.4 930.4 845.0 930.9 846.1 931.4 847.2 931.9 848.2 932.4 849.2 932.9 850.1 933.4 851.0 933.9 851.8 934.4 852.6 934.9 853.3 935.4 854.0 935.9 854.6 936.4 855.2 936.9 855.7 937.4 856.2 937.9 856.6 938.4 857.0 938.6 857.1 938.9 857.3 939.4 857.6 939.9 857.9 940.4 858.1 940.9 858.4 941.4 858.6 941.9 858.9 942.4 859.1 942.9 859.3 943.4 859.5 943.9 859.7 944.4 859.9 944.9 860.1 945.4 860.2 945.9 860.4 946.4 860.6 946.9 860.7 947.4 860.9 947.9 861.0 948.4 861.2 948.9 861.3 949.4 861.4 949.9 861.6 950.4 861.7 950.9 861.8 951.4 862.0 951.9 862.1 952.4 862.2 952.9 862.4 953.4 862.5 953.9 862.7 954.1 862.7 954.4 862.8 954.9 863.0 955.4 863.1 955.9 863.3 956.4 863.5 956.9 863.6 957.4 863.8 957.9 864.0 958.4 864.1 958.9 864.3 959.4 864.5 959.9 864.6 960.4 864.8 960.9 865.0 961.4 865.1 961.9 865.3 962.4 865.4 962.9 865.6 963.4 865.7 963.9 865.9 964.4 866.0 964.9 866.1 965.4 866.2 965.9 866.4 966.4 866.5 966.9 866.6 967.4 866.6 967.9 866.7 968.4 866.8 968.9 866.9 969.4 866.9 969.9 866.9 970.4 867.0 970.9 867.0 971.1 867.0 971.4 866.9 971.9 866.7 972.4 866.4 972.9 865.9 973.4 865.3 973.9 864.7 974.4 864.0 974.9 863.3 975.3 862.7 975.4 862.5 975.9 861.3 976.4 859.8 976.9 858.8 977.3 858.5 977.4 858.5 977.9 858.8 978.4 859.3 978.9 860.0 979.4 860.7 979.9 861.5 980.4 862.2 980.9 862.7 980.9 862.7 981.4 863.2 981.9 863.6 982.4 864.0 982.9 864.4 983.4 864.8 983.9 865.2 984.4 865.5 984.9 865.8 985.4 866.1 985.9 866.3 986.4 866.4 986.6 866.4 986.9 866.5 987.4 866.5 987.9 866.6 988.4 866.6 988.9 866.7 989.4 866.7 989.9 866.8 990.4 866.8 990.9 866.9 991.4 866.9 991.9 866.9 992.4 866.9 992.9 867.0 993.4 867.0 993.9 867.0 994.4 867.0 994.9 867.1 995.4 867.1 995.9 867.1 996.4 867.1 996.9 867.1 997.4 867.2 997.9 867.2 998.4 867.2 998.9 867.3 999.4 867.3 999.9 867.3 1000.4 867.4 1000.9 867.4 1001.4 867.5 1001.9 867.5 1002.1 867.5 1002.4 867.6 1002.9 867.7 1003.4 867.8 1003.9 867.9 1004.4 868.0 1004.9 868.2 1005.4 868.4 1005.9 868.5 1006.4 868.7 1006.9 868.9 1007.4 869.1 1007.9 869.3 1008.4 869.6 1008.9 869.8 1009.4 870.0 1009.9 870.2 1010.4 870.4 1010.9 870.6 1011.4 870.8 1011.9 870.9 1012.4 871.1 1012.9 871.3 1013.4 871.4 1013.9 871.5 1014.4 871.6 1014.9 871.7 1015.4 871.7 1015.9 871.8 1016.2 871.8 1016.4 871.8 1016.9 871.8 1017.4 871.8 1017.9 871.8 1018.4 871.8 1018.9 871.8 1019.4 871.7 1019.9 871.7 1020.4 871.7 1020.9 871.7 1021.4 871.7 1021.9 871.7 1022.4 871.7 1022.9 871.7 1023.4 871.7 1023.9 871.7 1024.4 871.6 1024.9 871.6 1025.4 871.6 1025.9 871.6 1026.4 871.6 1026.9 871.6 1027.4 871.5 1027.9 871.5 1028.4 871.5 1028.9 871.5 1029.4 871.4 1029.9 871.4 1030.4 871.4 1030.9 871.3 1031.4 871.3 1031.9 871.3 1032.4 871.2 1032.9 871.2 1033.1 871.2 1033.4 871.2 1033.9 871.1 1034.4 870.9 1034.9 870.7 1035.4 870.4 1035.9 870.1 1036.4 869.7 1036.9 869.3 1037.4 868.8 1037.9 868.3 1038.4 867.7 1038.9 867.1 1039.4 866.5 1039.9 865.9 1040.2 865.6 1040.4 865.2 1040.9 864.2 1041.4 863.1 1041.9 861.6 1042.4 860.0 1042.9 858.2 1043.4 856.2 1043.9 854.0 1044.4 851.6 1044.9 849.1 1045.4 846.5 1045.8 844.4 1045.9 843.7 1046.4 840.4 1046.9 836.4 1047.4 831.8 1047.9 826.7 1048.4 821.2 1048.9 815.5 1049.4 809.5 1049.9 803.5 1050.0 802.1 1050.4 797.4 1050.9 791.0 1051.4 784.3 1051.9 776.7 1052.4 768.2 1052.9 759.8 1052.9 758.3 1053.4 742.3 1053.9 728.0 1054.0 727.0 1054.4 723.6 1054.6 722.0 1054.9 717.9 1055.4 710.4 1055.9 699.3 1056.4 682.8 1056.9 658.9 1057.4 625.6 1057.5 620.0 1057.9 450.4 1058.0 420.0 1058.4 261.8 1058.5 230.0 1058.8 47.0 1058.9 28.1 1059.4 -42.6 1059.9 -50.0 1060.4 -50.0 1060.9 -50.0 1061.4 -50.0 1061.9 -50.0 1062.4 -50.0 1062.9 -50.0 1063.4 -50.0 1063.9 -50.0 1064.4 -50.0 1064.9 -50.0 1065.4 -50.0 1065.9 -50.0 1066.4 -50.0 1066.9 -50.0 1067.4 -50.0 1067.9 -50.0 1068.4 -50.0 1068.9 -50.0 1069.4 -50.0 1069.9 -50.0 1070.4 -50.0 1070.9 -50.0 1071.4 -50.0 1071.9 -50.0 1072.4 -50.0 1072.9 -50.0 1073.0 -50.0 1073.4 -50.0 1073.9 -50.0 1074.4 -50.0 1074.9 -50.0 1075.4 -50.0 1075.9 -50.0 1076.4 -50.0 1076.9 -50.0 1077.4 -50.0 1077.9 -50.0 1078.4 -50.0 1078.9 -50.0 1079.4 -50.0 1079.9 -50.0 1080.4 -50.0 1080.9 -50.0 1081.4 -50.0 1081.9 -50.0 1082.4 -50.0 1082.9 -50.0 1083.4 -50.0 1083.9 -50.0 1084.4 -50.0 1084.9 -50.0 1085.4 -50.0 1085.9 -50.0 1086.4 -50.0 1086.9 -50.0 1087.4 -49.5 1087.9 -17.6 1088.4 13.3 1088.9 42.9 1089.0 47.0 1089.4 71.5 1089.9 99.7 1090.4 128.3 1090.9 158.2 1091.4 190.1 1091.9 224.8 1092.0 230.0 1092.4 266.3 1092.9 315.9 1093.4 365.9 1093.9 408.5 1094.1 420.0 1094.4 439.5 1094.9 466.3 1095.4 490.3 1095.9 512.2 1096.4 532.5 1096.9 551.7 1097.4 570.5 1097.9 589.4 1098.4 608.9 1098.7 620.0 1098.9 629.8 1099.4 652.9 1099.9 677.5 1100.4 702.7 1100.9 727.6 1101.4 751.3 1101.9 773.0 1102.4 791.7 1102.9 806.6 1103.4 816.8 1103.7 820.0 1103.9 821.9 1104.4 825.6 1104.9 828.8 1105.4 831.4 1105.9 833.7 1106.4 835.8 1106.9 837.6 1107.4 839.5 1107.9 841.3 1108.2 842.6 1108.4 843.4 1108.9 845.4 1109.4 847.5 1109.9 849.5 1110.4 851.5 1110.9 853.4 1111.4 855.2 1111.9 856.9 1112.4 858.5 1112.9 860.0 1113.4 861.3 1113.9 862.3 1113.9 862.4 1114.4 863.5 1114.9 864.5 1115.4 865.5 1115.9 866.5 1116.4 867.4 1116.9 868.3 1117.4 869.1 1117.9 870.0 1118.4 870.7 1118.9 871.4 1119.4 872.1 1119.9 872.7 1120.4 873.3 1120.9 873.8 1121.4 874.3 1121.9 874.7 1122.3 875.0 1122.4 875.1 1122.9 875.4 1123.4 875.7 1123.9 876.0 1124.4 876.3 1124.9 876.6 1125.4 876.9 1125.9 877.1 1126.4 877.4 1126.9 877.6 1127.4 877.9 1127.9 878.1 1128.4 878.3 1128.9 878.5 1129.4 878.7 1129.9 878.9 1130.4 879.1 1130.9 879.3 1131.4 879.4 1131.9 879.6 1132.4 879.7 1132.9 879.9 1133.4 880.0 1133.9 880.1 1134.4 880.3 1134.9 880.4 1135.4 880.5 1135.9 880.6 1136.4 880.6 1136.4 880.6 1136.9 880.7 1137.4 880.8 1137.9 880.9 1138.4 881.0 1138.9 881.0 1139.4 881.1 1139.9 881.2 1140.4 881.3 1140.9 881.3 1141.4 881.4 1141.9 881.5 1142.4 881.5 1142.9 881.6 1143.4 881.6 1143.9 881.7 1144.4 881.8 1144.9 881.8 1145.4 881.9 1145.9 881.9 1146.4 882.0 1146.9 882.0 1147.4 882.1 1147.9 882.1 1148.4 882.2 1148.9 882.2 1149.4 882.2 1149.9 882.3 1150.4 882.3 1150.9 882.4 1151.4 882.4 1151.9 882.4 1152.4 882.5 1152.9 882.5 1153.4 882.5 1153.9 882.5 1154.4 882.6 1154.9 882.6 1155.4 882.6 1155.9 882.6 1156.2 882.6 1156.4 882.6 1156.9 882.6 1157.4 882.7 1157.9 882.7 1158.4 882.7 1158.9 882.7 1159.4 882.7 1159.9 882.7 1160.4 882.8 1160.9 882.8 1161.4 882.8 1161.9 882.8 1162.4 882.8 1162.9 882.8 1163.4 882.8 1163.9 882.8 1164.4 882.9 1164.9 882.9 1165.4 882.9 1165.9 882.9 1166.4 882.9 1166.9 882.9 1167.4 882.9 1167.9 882.9 1168.4 883.0 1168.9 883.0 1169.4 883.0 1169.9 883.0 1170.4 883.0 1170.9 883.0 1171.4 883.0 1171.9 883.0 1172.4 883.0 1172.9 883.0 1173.4 883.0 1173.9 883.1 1174.4 883.1 1174.9 883.1 1175.4 883.1 1175.9 883.1 1176.4 883.1 1176.9 883.1 1177.4 883.1 1177.9 883.1 1178.4 883.1 1178.9 883.1 1179.4 883.1 1179.9 883.1 1180.4 883.1 1180.9 883.1 1181.4 883.1 1181.9 883.1 1182.4 883.1 1182.9 883.2 1183.4 883.2 1183.9 883.2 1184.4 883.2 1184.9 883.2 1185.4 883.2 1185.9 883.2 1186.4 883.2 1186.4 883.2 1186.9 883.1 1187.4 883.0 1187.9 882.8 1188.4 882.6 1188.9 882.3 1189.4 882.0 1189.9 881.6 1190.4 881.2 1190.9 880.8 1191.4 880.3 1191.9 879.8 1192.1 879.6 1192.4 879.2 1192.9 878.5 1193.4 877.5 1193.9 876.4 1194.4 875.1 1194.9 873.6 1195.4 871.8 1195.6 871.2 1195.9 869.4 1196.4 865.8 1196.9 861.2 1197.4 855.9 1197.7 852.8 1197.9 850.0 1198.4 842.6 1198.9 834.5 1199.1 831.7 1199.4 826.7 1199.9 818.8 1200.4 811.7 1200.5 810.5 1200.9 805.8 1201.4 800.6 1201.9 796.4 1201.9 796.4 1202.4 793.0 1202.9 789.7 1203.4 787.2 1203.9 785.9 1204.0 785.8 1204.4 786.2 1204.9 787.5 1205.4 789.5 1205.9 791.9 1206.4 794.4 1206.9 796.4 1206.9 796.7 1207.4 799.0 1207.9 801.5 1208.4 804.2 1208.9 807.0 1209.4 809.7 1209.9 812.4 1210.4 814.8 1210.4 814.9 1210.9 817.4 1211.4 819.9 1211.9 822.3 1212.4 824.7 1212.9 827.1 1213.4 829.4 1213.9 831.6 1214.4 833.7 1214.6 834.5 1214.9 835.7 1215.4 837.7 1215.9 839.6 1216.4 841.5 1216.9 843.3 1217.4 845.1 1217.9 846.8 1218.4 848.5 1218.9 850.1 1219.4 851.7 1219.9 853.2 1220.3 854.2 1220.4 854.7 1220.9 856.2 1221.4 857.6 1221.9 859.0 1222.4 860.3 1222.9 861.6 1223.4 862.9 1223.9 864.1 1224.4 865.3 1224.9 866.4 1225.4 867.4 1225.9 868.3 1225.9 868.4 1226.4 869.3 1226.9 870.2 1227.4 871.1 1227.9 872.0 1228.4 872.8 1228.9 873.6 1229.4 874.3 1229.9 875.0 1230.4 875.6 1230.9 876.2 1231.4 876.7 1231.6 876.8 1231.9 877.2 1232.4 877.6 1232.9 878.1 1233.4 878.5 1233.9 878.9 1234.4 879.3 1234.9 879.6 1235.4 880.0 1235.9 880.3 1236.4 880.6 1236.9 880.8 1237.4 881.1 1237.9 881.3 1238.4 881.4 1238.6 881.5 1238.9 881.5 1239.4 881.7 1239.9 881.8 1240.4 881.9 1240.9 882.0 1241.4 882.1 1241.9 882.2 1242.4 882.3 1242.9 882.4 1243.4 882.5 1243.9 882.6 1244.4 882.7 1244.9 882.8 1245.4 882.8 1245.9 882.9 1246.4 883.0 1246.9 883.0 1247.4 883.1 1247.9 883.1 1248.4 883.1 1248.9 883.1 1249.4 883.2 1249.9 883.2 1249.9 883.2 1250.4 883.2 1250.9 883.2 1251.4 883.2 1251.9 883.2 1252.4 883.2 1252.9 883.2 1253.4 883.2 1253.9 883.2 1254.4 883.2 1254.9 883.2 1255.4 883.2 1255.9 883.2 1256.4 883.2 1256.9 883.2 1257.4 883.2 1257.9 883.2 1258.4 883.2 1258.9 883.2 1259.4 883.2 1259.9 883.2 1260.4 883.2 1260.9 883.2 1261.4 883.2 1261.9 883.2 1262.4 883.2 1262.9 883.2 1263.4 883.2 1263.9 883.2 1264.4 883.2 1264.9 883.2 1265.4 883.2 1265.9 883.2 1266.4 883.2 1266.9 883.2 1267.4 883.2 1267.9 883.2 1268.4 883.2 1268.9 883.2 1269.4 883.2 1269.9 883.2 1270.4 883.2 1270.9 883.2 1271.4 883.2 1271.9 883.2 1272.4 883.2 1272.9 883.2 1273.4 883.2 1273.9 883.2 1274.4 883.2 1274.9 883.2 1275.4 883.2 1275.9 883.2 1276.4 883.2 1276.9 883.2 1277.4 883.2 1277.9 883.2 1278.4 883.2 1278.9 883.2 1279.4 883.2 1279.9 883.2 1280.4 883.2 1280.9 883.2 1281.4 883.2 1281.9 883.2 1282.4 883.2 1282.9 883.2 1283.4 883.2 1283.9 883.2 1284.4 883.2 1284.9 883.2 1285.1 883.2"/>
</g>
<g fill="#000" shape-rendering="crispEdges">
<rect x="190" y="45" width="3" height="1172"/>
<rect x="1324" y="45" width="4" height="1172"/>
<rect x="190" y="45" width="1138" height="3"/>
<rect x="190" y="1214" width="1138" height="3"/>
<rect x="232" y="1214" width="3" height="26"/>
<rect x="508" y="1214" width="3" height="26"/>
<rect x="785" y="1214" width="3" height="26"/>
<rect x="1061" y="1214" width="3" height="26"/>
<rect x="167" y="1171" width="24" height="3"/>
<rect x="167" y="810" width="24" height="3"/>
<rect x="167" y="449" width="24" height="3"/>
<rect x="167" y="88" width="24" height="3"/>
</g>
<text transform="translate(232.80,1308.00) scale(0.9500,1)" text-anchor="middle" style="font-size:62.00px;">0</text>
<text transform="translate(509.30,1308.00) scale(0.9500,1)" text-anchor="middle" style="font-size:62.00px;">5</text>
<g transform="translate(786.50,1308.00) scale(0.9500,1) translate(-1.000,0)"><text dx="2.00 -2.00" text-anchor="middle" style="font-size:62.00px;">10</text><rect x="-27.76" y="-5.43" width="11.87" height="6.43" fill="#fff"/><rect x="-10.41" y="-5.43" width="11.58" height="6.43" fill="#fff"/></g>
<g transform="translate(1062.50,1308.00) scale(0.9500,1) translate(-1.000,0)"><text dx="2.00 -2.00" text-anchor="middle" style="font-size:62.00px;">15</text><rect x="-27.76" y="-5.43" width="11.87" height="6.43" fill="#fff"/><rect x="-10.41" y="-5.43" width="11.58" height="6.43" fill="#fff"/></g>
<text transform="translate(616.60,1379.00)" text-anchor="start" style="font-size:60.00px;letter-spacing:0.020px;">Time (min)</text>
<text transform="translate(141.60,1172.50) rotate(-90) scale(0.9500,1)" text-anchor="middle" style="font-size:62.00px;">0</text>
<text transform="translate(141.60,811.50) rotate(-90) scale(0.9500,1)" text-anchor="middle" style="font-size:62.00px;">500</text>
<g transform="translate(141.60,450.50) rotate(-90) scale(0.9500,1) translate(-1.000,0)"><text dx="2.00 -2.00" text-anchor="middle" style="font-size:62.00px;">1000</text><rect x="-62.24" y="-5.43" width="11.87" height="6.43" fill="#fff"/><rect x="-44.89" y="-5.43" width="11.58" height="6.43" fill="#fff"/></g>
<g transform="translate(141.60,89.50) rotate(-90) scale(0.9500,1) translate(-1.000,0)"><text dx="2.00 -2.00" text-anchor="middle" style="font-size:62.00px;">1500</text><rect x="-62.24" y="-5.43" width="11.87" height="6.43" fill="#fff"/><rect x="-44.89" y="-5.43" width="11.58" height="6.43" fill="#fff"/></g>
<text transform="translate(71.00,895.80) rotate(-90)" text-anchor="start" style="font-size:60.00px;letter-spacing:-0.410px;">Fluorescence (RFU)</text>
<text transform="translate(235.80,757.00)" text-anchor="start" style="font-size:60.00px;letter-spacing:-0.950px;">+zwit</text>
<text transform="translate(235.80,828.20)" text-anchor="start" style="font-size:60.00px;letter-spacing:-0.670px;">+trypsin</text>
<text transform="translate(235.80,995.00)" text-anchor="start" style="font-size:60.00px;letter-spacing:-0.950px;">+zwit</text>
<text transform="translate(234.80,1139.40)" text-anchor="start" style="font-size:60.00px;letter-spacing:-0.450px;">no treatment</text>
</svg>
</body></html>
